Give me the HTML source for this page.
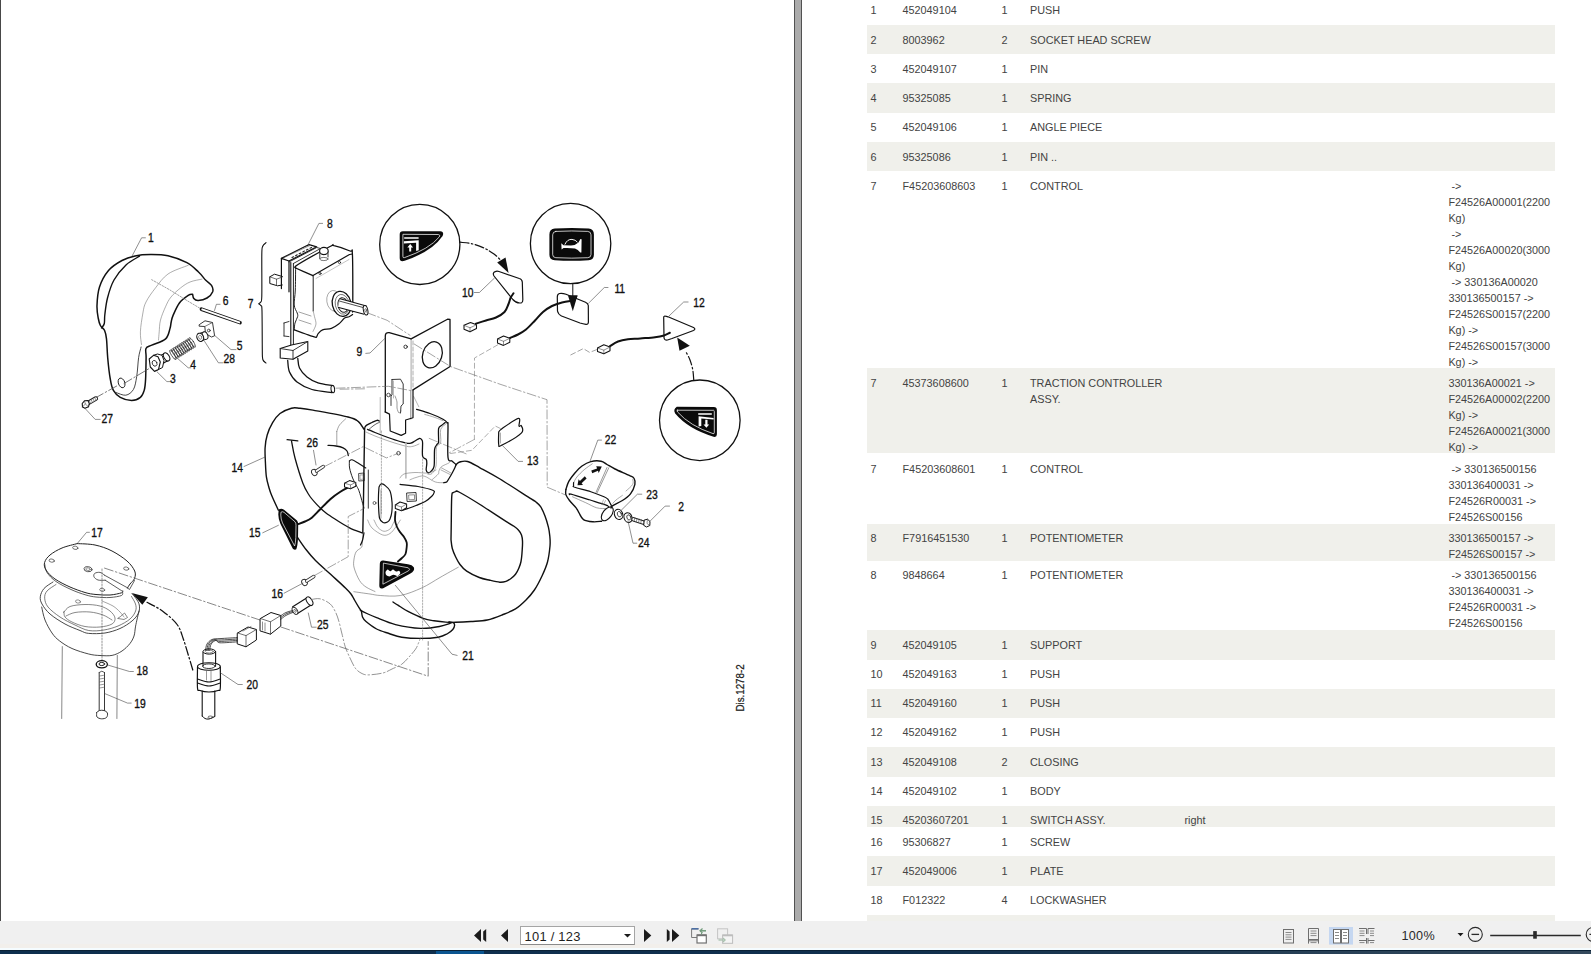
<!DOCTYPE html>
<html><head><meta charset="utf-8"><title>Parts</title>
<style>
*{margin:0;padding:0;box-sizing:border-box}
html,body{width:1591px;height:954px;overflow:hidden;background:#fff;font-family:"Liberation Sans",sans-serif}
#left{position:absolute;left:0;top:0;width:794px;height:921px;background:#fff;overflow:hidden}
#bar{position:absolute;left:794px;top:0;width:8px;height:921px;background:#ababab;border-left:1px solid #525252;border-right:1px solid #525252}
#right{position:absolute;left:802px;top:0;width:789px;height:921px;background:#fff;overflow:hidden}
.r{position:absolute;left:65px;width:688px;font-size:10.83px;line-height:16px;color:#434343}
.r.s{background:#f0f0eb}
.r span{position:absolute;top:6.7px;white-space:nowrap}
.c1{left:3.5px}.c2{left:35.5px}.c3{left:134.4px}.c4{left:163px}.c5{left:317.4px}.c6{left:581.4px}
#tb{position:absolute;left:0;top:921px;width:1591px;height:29px;background:#f0f0f0}
#tb .ln{position:absolute;left:0;top:23px;width:1591px;height:4px;background:#f2efeb}
#tb .ln2{position:absolute;left:0;top:27.3px;width:1591px;height:1.4px;background:#f5fcff}
#task{position:absolute;left:0;top:950px;width:1591px;height:4px;background:linear-gradient(90deg,#0e2f4e 0,#102f4d 900px,#1f3a52 1150px,#34495c 1591px);border-top:0.6px solid #0b2236}
.ic{position:absolute}
</style></head><body>
<div id="left"><svg width="794" height="921" viewBox="0 0 794 921" style="position:absolute;left:0;top:0" font-family="Liberation Sans, sans-serif" stroke-linecap="round" stroke-linejoin="round">
<path d="M192.6 294.2 C191.9 294.4 190.4 293.9 188.2 295.4 C186.0 296.9 181.9 299.6 179.4 303.0 C176.9 306.4 174.4 312.4 173.0 315.6 C171.6 318.8 171.7 319.9 171.2 322.0 C170.7 324.1 170.9 325.7 170.0 328.5 C169.1 331.3 168.6 336.1 165.6 338.9 C162.6 341.7 155.1 343.6 151.8 345.2 C148.5 346.8 146.9 346.4 146.0 348.5 C145.1 350.6 146.2 352.6 146.1 357.7 C146.0 362.8 145.9 373.7 145.6 379.1 C145.3 384.6 145.1 387.3 144.2 390.4 C143.3 393.4 142.5 395.7 140.4 397.4 C138.3 399.1 134.9 400.5 131.6 400.5 C128.2 400.5 123.3 399.1 120.3 397.4 C117.3 395.7 115.1 393.4 113.4 390.4 C111.7 387.3 111.2 384.6 110.3 379.1 C109.3 373.7 108.3 364.4 107.7 357.7 C107.1 351.0 107.0 343.4 106.5 338.9 C106.0 334.4 105.6 332.7 104.6 330.5 C103.6 328.3 101.5 327.6 100.4 325.5 C99.3 323.4 98.8 321.3 98.2 318.0 C97.6 314.7 96.8 310.7 97.0 305.5 C97.2 300.3 97.6 292.8 99.5 287.0 C101.4 281.2 104.8 274.9 108.5 270.5 C112.2 266.1 117.6 262.9 122.0 260.5 C126.4 258.1 130.3 257.0 135.0 256.0 C139.7 255.0 144.9 254.6 150.4 254.6 C155.9 254.6 161.9 254.5 168.0 255.8 C174.1 257.2 181.8 260.0 186.9 262.7 C192.0 265.4 195.3 269.1 198.5 272.0 C201.7 274.9 203.6 278.1 205.8 280.3 C208.0 282.5 210.3 283.5 211.5 285.4 C212.7 287.3 213.4 289.6 212.7 291.7 C211.9 293.8 209.4 296.5 207.0 298.0 C204.6 299.5 200.4 300.4 198.2 300.5 C196.0 300.6 194.7 299.6 193.8 298.5 C192.9 297.4 192.8 294.9 192.6 294.2" fill="none" stroke="#111" stroke-width="1.5" />
<path d="M139.5 256.2 C137.2 257.7 130.2 261.0 126.0 265.0 C121.8 269.0 117.1 274.5 114.0 280.0 C110.9 285.5 109.0 292.2 107.5 298.0 C106.0 303.8 105.3 310.8 104.8 315.0 C104.3 319.2 104.8 321.3 104.3 323.5 C103.8 325.7 102.0 327.2 101.5 328.0" fill="none" stroke="#111" stroke-width="1.4" />
<path d="M141.1 347.0 C140.7 348.8 139.3 352.8 138.6 357.7 C137.9 362.6 137.6 371.3 136.7 376.6 C135.8 381.9 135.2 386.4 133.4 389.5 C131.6 392.6 128.7 394.7 125.8 395.2 C122.9 395.7 117.6 392.9 116.0 392.5" fill="none" stroke="#333" stroke-width="0.9" />
<path d="M188.2 265.3 C184.8 266.8 173.4 270.2 168.0 274.0 C162.6 277.8 159.2 283.2 155.5 287.9 C151.8 292.6 148.1 297.8 146.0 302.0 C143.9 306.2 143.8 308.0 142.9 313.0 C142.0 318.0 140.6 326.6 140.4 331.9 C140.2 337.1 141.3 342.4 141.5 344.5" fill="none" stroke="#777" stroke-width="0.6" />
<path d="M202.0 279.1 C200.0 279.6 193.6 280.5 190.0 282.0 C186.4 283.5 183.8 285.4 180.6 287.9 C177.4 290.4 173.5 293.9 171.0 297.0 C168.5 300.1 167.2 303.0 165.5 306.8 C163.8 310.6 161.6 315.8 160.5 320.0 C159.4 324.2 159.5 328.6 159.2 331.9 C158.9 335.2 158.6 338.6 158.5 340.0" fill="none" stroke="#777" stroke-width="0.6" />
<path d="M151.7 279.7 L170.0 290.0 L186.9 300.5 L199.5 308.0" fill="none" stroke="#777" stroke-width="0.7" stroke-dasharray="1.5 1.5"/>
<ellipse cx="121.6" cy="382.9" rx="3.2" ry="5" transform="rotate(-20 121.6 382.9)" fill="none" stroke="#222" stroke-width="0.9"/>
<path d="M95.2 398.0 L117.8 385.4" fill="none" stroke="#555" stroke-width="0.8" stroke-dasharray="9 2.5 1.5 2.5"/>
<path d="M124.0 383.5 L150.0 368.0" fill="none" stroke="#555" stroke-width="0.8" stroke-dasharray="9 2.5 1.5 2.5"/>
<path d="M132.2 255.8 L141.6 237.8 L145.4 237.8" fill="none" stroke="#444" stroke-width="0.6" />
<text transform="translate(148.0,242.2) scale(0.84,1)" font-size="12.3" fill="#111" stroke="#111" stroke-width="0.35">1</text>
<path d="M201.5 309.2 L240.0 322.6" fill="none" stroke="#111" stroke-width="3.6" />
<path d="M201.5 309.2 L240.0 322.6" fill="none" stroke="#fff" stroke-width="1.8" stroke-linecap="butt"/>
<path d="M214.5 310.5 L216.4 304.3 L220.1 304.3" fill="none" stroke="#444" stroke-width="0.6" />
<text transform="translate(222.7,305.2) scale(0.84,1)" font-size="12.3" fill="#111" stroke="#111" stroke-width="0.35">6</text>
<path d="M199.5 324.5 L205.0 320.8 L212.5 322.5 L214.6 335.8 L211.5 337.0 L205.5 333.5 L204.8 326.5 L199.5 326.2Z" fill="#fff" stroke="#222" stroke-width="0.9" />
<path d="M204.8 326.5 L212.5 322.5" fill="none" stroke="#444" stroke-width="0.7" />
<circle cx="208.8" cy="330.5" r="1.4" fill="none" stroke="#111" stroke-width="0.7"/>
<path d="M214.7 335.5 L231.0 349.6 L236.0 349.6" fill="none" stroke="#444" stroke-width="0.6" />
<text transform="translate(236.7,349.8) scale(0.84,1)" font-size="12.3" fill="#111" stroke="#111" stroke-width="0.35">5</text>
<path d="M200.0 333.2 L204.5 331.8" fill="none" stroke="#222" stroke-width="1.0" />
<path d="M200.5 341.2 L205.5 339.5" fill="none" stroke="#222" stroke-width="1.0" />
<ellipse cx="205" cy="335.7" rx="2.8" ry="3.9" transform="rotate(-20 205 335.7)" fill="#fff" stroke="#222" stroke-width="1.0"/>
<ellipse cx="200.2" cy="337.3" rx="3.3" ry="4.2" transform="rotate(-20 200.2 337.3)" fill="#fff" stroke="#111" stroke-width="1.1"/>
<ellipse cx="200.2" cy="337.3" rx="1.5" ry="2" transform="rotate(-20 200.2 337.3)" fill="none" stroke="#555" stroke-width="0.6"/>
<path d="M204.6 341.4 L218.4 362.8 L222.8 362.8" fill="none" stroke="#444" stroke-width="0.6" />
<text transform="translate(223.4,363.0) scale(0.84,1)" font-size="12.3" fill="#111" stroke="#111" stroke-width="0.35">28</text>
<path d="M171.2 351.3 L190.5 339.0" fill="none" stroke="#444" stroke-width="0.7" />
<path d="M174.8 358.3 L194.0 346.0" fill="none" stroke="#444" stroke-width="0.7" />
<ellipse cx="173.0" cy="354.8" rx="1.5" ry="5.6" transform="rotate(-32 173.0 354.8)" fill="none" stroke="#333" stroke-width="0.75"/>
<ellipse cx="174.9" cy="353.6" rx="1.5" ry="5.6" transform="rotate(-32 174.9 353.6)" fill="none" stroke="#333" stroke-width="0.75"/>
<ellipse cx="176.8" cy="352.3" rx="1.5" ry="5.6" transform="rotate(-32 176.8 352.3)" fill="none" stroke="#333" stroke-width="0.75"/>
<ellipse cx="178.8" cy="351.1" rx="1.5" ry="5.6" transform="rotate(-32 178.8 351.1)" fill="none" stroke="#333" stroke-width="0.75"/>
<ellipse cx="180.7" cy="349.9" rx="1.5" ry="5.6" transform="rotate(-32 180.7 349.9)" fill="none" stroke="#333" stroke-width="0.75"/>
<ellipse cx="182.6" cy="348.6" rx="1.5" ry="5.6" transform="rotate(-32 182.6 348.6)" fill="none" stroke="#333" stroke-width="0.75"/>
<ellipse cx="184.5" cy="347.4" rx="1.5" ry="5.6" transform="rotate(-32 184.5 347.4)" fill="none" stroke="#333" stroke-width="0.75"/>
<ellipse cx="186.4" cy="346.2" rx="1.5" ry="5.6" transform="rotate(-32 186.4 346.2)" fill="none" stroke="#333" stroke-width="0.75"/>
<ellipse cx="188.4" cy="345.0" rx="1.5" ry="5.6" transform="rotate(-32 188.4 345.0)" fill="none" stroke="#333" stroke-width="0.75"/>
<ellipse cx="190.3" cy="343.7" rx="1.5" ry="5.6" transform="rotate(-32 190.3 343.7)" fill="none" stroke="#333" stroke-width="0.75"/>
<ellipse cx="192.2" cy="342.5" rx="1.5" ry="5.6" transform="rotate(-32 192.2 342.5)" fill="none" stroke="#333" stroke-width="0.75"/>
<path d="M178.2 359.0 L188.2 367.8 L190.8 367.8" fill="none" stroke="#444" stroke-width="0.6" />
<text transform="translate(190.2,369.2) scale(0.84,1)" font-size="12.3" fill="#111" stroke="#111" stroke-width="0.35">4</text>
<path d="M160.0 360.5 L166.5 356.8" fill="none" stroke="#111" stroke-width="9.0" stroke-linecap="butt"/>
<path d="M160.0 360.5 L166.5 356.8" fill="none" stroke="#fff" stroke-width="7.0" stroke-linecap="butt"/>
<ellipse cx="166.6" cy="356.9" rx="2.6" ry="4.5" transform="rotate(-30 166.6 356.9)" fill="#fff" stroke="#111" stroke-width="1.0"/>
<path d="M153.5 355.3 L157.5 354.0 L162.0 355.3 L164.0 360.5 L162.5 367.5 L158.5 369.5 L154.5 371.3" fill="#fff" stroke="#111" stroke-width="1.0" />
<path d="M149.2 359.0 L153.5 355.3 L158.0 356.8 L160.3 362.0 L158.5 369.5 L154.5 371.3 L150.3 367.0 L149.2 359.0Z" fill="#fff" stroke="#111" stroke-width="1.1" />
<ellipse cx="154.6" cy="363.3" rx="2.3" ry="3" transform="rotate(-25 154.6 363.3)" fill="none" stroke="#222" stroke-width="0.8"/>
<path d="M156.8 371.6 L166.9 381.6 L170.6 381.6" fill="none" stroke="#444" stroke-width="0.6" />
<text transform="translate(170.0,383.1) scale(0.84,1)" font-size="12.3" fill="#111" stroke="#111" stroke-width="0.35">3</text>
<path d="M88.5 402.8 L95.8 398.6" fill="none" stroke="#222" stroke-width="4.6" />
<path d="M88.5 402.8 L95.8 398.6" fill="none" stroke="#fff" stroke-width="2.6" />
<path d="M89.5 401.2 L90.8 403.6" fill="none" stroke="#444" stroke-width="0.6" />
<path d="M91.3 400.1 L92.6 402.6" fill="none" stroke="#444" stroke-width="0.6" />
<path d="M93.1 399.1 L94.4 401.5" fill="none" stroke="#444" stroke-width="0.6" />
<path d="M94.9 398.1 L96.2 400.5" fill="none" stroke="#444" stroke-width="0.6" />
<path d="M82.2 403.5 L84.5 400.8 L88.0 400.6 L89.3 403.5 L88.5 406.8 L85.0 408.2 L82.5 407.0Z" fill="#fff" stroke="#111" stroke-width="1.1" />
<path d="M84.5 400.8 L85.3 404.0 L88.5 406.8" fill="none" stroke="#444" stroke-width="0.6" />
<path d="M85.3 404.0 L82.5 407.0" fill="none" stroke="#444" stroke-width="0.6" />
<path d="M85.1 408.5 L95.2 419.4 L100.2 419.4" fill="none" stroke="#444" stroke-width="0.6" />
<text transform="translate(101.4,423.2) scale(0.84,1)" font-size="12.3" fill="#111" stroke="#111" stroke-width="0.35">27</text>
<path d="M266.0 242.7 C265.4 243.3 263.3 244.4 262.6 246.5 C261.9 248.6 261.9 246.8 261.8 255.0 C261.7 263.2 262.0 288.2 261.8 296.0 C261.6 303.8 261.3 300.7 260.8 302.0 C260.3 303.3 258.7 303.2 258.7 303.8 C258.7 304.4 260.2 304.3 260.8 305.5 C261.4 306.7 261.8 303.6 262.0 311.0 C262.2 318.4 262.2 341.9 262.3 350.0 C262.4 358.1 262.2 357.3 262.8 359.5 C263.4 361.7 265.5 362.4 266.0 363.0" fill="none" stroke="#111" stroke-width="1.1" />
<text transform="translate(247.8,308.2) scale(0.84,1)" font-size="12.3" fill="#111" stroke="#111" stroke-width="0.35">7</text>
<path d="M281.4 288.6 L281.4 258.4 L289.0 261.0 L289.0 291.8" fill="none" stroke="#111" stroke-width="1.2" />
<path d="M281.4 258.4 L305.0 246.5 L309.1 244.6 L316.7 246.8 L289.0 261.0" fill="none" stroke="#111" stroke-width="1.2" />
<path d="M284.0 257.5 L310.0 245.5" fill="none" stroke="#555" stroke-width="0.6" />
<path d="M292.0 257.5 L293.6 256.7" fill="none" stroke="#222" stroke-width="1.1" />
<path d="M295.6 255.7 L297.2 254.8" fill="none" stroke="#222" stroke-width="1.1" />
<path d="M299.2 253.8 L300.8 253.0" fill="none" stroke="#222" stroke-width="1.1" />
<path d="M302.8 251.9 L304.4 251.1" fill="none" stroke="#222" stroke-width="1.1" />
<path d="M306.4 250.1 L308.0 249.3" fill="none" stroke="#222" stroke-width="1.1" />
<path d="M310.0 248.2 L311.6 247.4" fill="none" stroke="#222" stroke-width="1.1" />
<path d="M290.8 262.5 L290.8 346.7" fill="none" stroke="#111" stroke-width="1.1" />
<path d="M293.4 263.5 L293.4 346.0" fill="none" stroke="#222" stroke-width="1.0" />
<path d="M289.0 262.0 L316.7 247.5 L320.5 248.5 L293.4 263.5" fill="none" stroke="#222" stroke-width="0.9" />
<path d="M295.6 268.0 C298.5 269.3 310.1 274.3 313.0 275.6" fill="none" stroke="#111" stroke-width="1.3" />
<path d="M295.6 268.0 C296.0 267.4 292.3 268.1 298.0 264.5 C303.7 260.9 324.0 249.7 330.0 246.5 C336.0 243.3 330.7 244.8 334.0 245.6 C337.3 246.3 346.9 249.6 350.0 251.0 C353.1 252.4 351.9 245.8 352.4 254.0 C352.9 262.2 352.8 290.3 352.8 300.0 C352.8 309.7 352.6 310.0 352.6 312.0" fill="none" stroke="#111" stroke-width="1.3" />
<path d="M313.0 275.6 L349.5 254.5 L352.4 254.0" fill="none" stroke="#111" stroke-width="1.2" />
<path d="M313.2 276.0 L313.2 311.0" fill="none" stroke="#222" stroke-width="1.0" />
<path d="M295.6 268.0 C295.6 271.7 295.5 283.8 295.3 290.0 C295.1 296.2 293.9 301.2 294.2 305.0 C294.5 308.8 296.6 311.1 297.2 313.0 C297.8 314.9 298.0 315.0 297.6 316.7 C297.2 318.4 295.6 320.8 295.0 323.0 C294.4 325.2 294.4 328.8 294.3 329.9" fill="none" stroke="#222" stroke-width="1.0" />
<path d="M294.3 329.9 C296.1 330.5 301.5 332.6 305.0 333.8 C308.5 335.0 313.2 336.8 315.2 337.2 C317.2 337.6 316.5 336.6 317.0 336.0 C317.5 335.4 317.3 334.6 318.2 333.6 C319.1 332.6 320.4 330.8 322.6 329.9 C324.8 329.0 328.7 329.4 331.4 328.4 C334.1 327.4 336.5 325.7 338.7 324.0 C340.9 322.3 342.9 319.3 344.6 318.1 C346.3 316.9 347.7 317.3 349.0 316.7 C350.3 316.1 352.0 314.9 352.6 314.5" fill="none" stroke="#111" stroke-width="1.2" />
<path d="M313.2 311.0 C313.4 311.9 314.0 314.5 314.5 316.7 C315.0 318.9 316.2 321.6 316.0 324.0 C315.8 326.4 313.5 330.2 313.0 331.4" fill="none" stroke="#777" stroke-width="0.6" />
<path d="M299.0 312.0 L311.0 316.0" fill="none" stroke="#666" stroke-width="0.6" />
<path d="M299.0 320.0 L311.0 324.0" fill="none" stroke="#666" stroke-width="0.6" />
<path d="M319.8 251.5 L319.8 258.5" fill="none" stroke="#222" stroke-width="0.9" />
<path d="M328.0 251.5 L328.0 257.0" fill="none" stroke="#222" stroke-width="0.9" />
<ellipse cx="323.9" cy="259" rx="4.1" ry="1.6" transform="rotate(0 323.9 259)" fill="none" stroke="#444" stroke-width="0.7"/>
<ellipse cx="323.9" cy="251" rx="4.3" ry="3.6" transform="rotate(0 323.9 251)" fill="#fff" stroke="#111" stroke-width="1.1"/>
<circle cx="339.5" cy="262.5" r="1.1" fill="none" stroke="#111" stroke-width="0.7"/>
<circle cx="320" cy="273.5" r="1.1" fill="none" stroke="#111" stroke-width="0.7"/>
<path d="M316.0 278.5 L349.0 259.5" fill="none" stroke="#888" stroke-width="0.5" />
<path d="M282.3 276.5 L274.5 274.2 L269.8 276.8 L269.8 283.5 L277.5 285.8 L282.3 285.0" fill="none" stroke="#111" stroke-width="1.0" />
<path d="M269.8 276.8 L276.5 279.2 L282.3 277.0" fill="none" stroke="#333" stroke-width="0.7" />
<path d="M276.5 279.2 L276.5 285.6" fill="none" stroke="#333" stroke-width="0.7" />
<path d="M284.0 323.0 L289.0 321.5" fill="none" stroke="#222" stroke-width="0.9" />
<path d="M284.0 323.0 L284.0 336.0" fill="none" stroke="#222" stroke-width="0.9" />
<path d="M284.0 336.0 L289.0 336.6" fill="none" stroke="#222" stroke-width="0.9" />
<ellipse cx="334" cy="300.8" rx="7.2" ry="10.4" transform="rotate(-8 334 300.8)" fill="#fff" stroke="#777" stroke-width="0.6"/>
<ellipse cx="341.6" cy="303.8" rx="9.3" ry="12.6" transform="rotate(-12 341.6 303.8)" fill="#fff" stroke="#111" stroke-width="1.3"/>
<ellipse cx="342.3" cy="304.3" rx="7" ry="10" transform="rotate(-12 342.3 304.3)" fill="none" stroke="#444" stroke-width="0.7"/>
<ellipse cx="343" cy="305" rx="5" ry="7.4" transform="rotate(-12 343 305)" fill="none" stroke="#222" stroke-width="1.0"/>
<path d="M339.0 303.0 L365.3 310.2" fill="none" stroke="#111" stroke-width="9.6" stroke-linecap="butt"/>
<path d="M339.0 303.0 L365.3 310.2" fill="none" stroke="#fff" stroke-width="7.6" stroke-linecap="butt"/>
<path d="M340.0 301.2 L364.8 308.0" fill="none" stroke="#222" stroke-width="0.8" />
<ellipse cx="365.6" cy="310.2" rx="2.2" ry="4.8" transform="rotate(-12 365.6 310.2)" fill="#fff" stroke="#111" stroke-width="1.0"/>
<ellipse cx="365.8" cy="310.4" rx="0.9" ry="1.8" transform="rotate(-12 365.8 310.4)" fill="none" stroke="#333" stroke-width="0.6"/>
<path d="M280.2 348.5 L291.5 345.0 L307.8 341.5 L307.8 351.0 L293.0 359.2 L280.2 358.0Z" fill="#fff" stroke="#111" stroke-width="1.1" />
<path d="M280.2 348.5 L293.0 350.5 L307.8 341.5" fill="none" stroke="#222" stroke-width="0.9" />
<path d="M293.0 350.5 L293.0 359.2" fill="none" stroke="#222" stroke-width="0.9" />
<path d="M287.7 360.5 C288.0 362.4 287.9 368.4 289.5 372.0 C291.1 375.6 293.2 379.1 297.0 382.0 C300.8 384.9 306.2 387.8 312.0 389.5 C317.8 391.2 328.5 392.0 331.8 392.5" fill="none" stroke="#111" stroke-width="1.3" />
<path d="M297.8 358.5 C298.1 360.1 298.0 364.9 299.5 368.0 C301.0 371.1 303.9 374.5 307.0 377.0 C310.1 379.5 313.7 381.4 318.0 382.8 C322.3 384.2 330.5 385.2 333.0 385.7" fill="none" stroke="#111" stroke-width="1.3" />
<ellipse cx="332.8" cy="389.1" rx="1.8" ry="3.6" transform="rotate(-5 332.8 389.1)" fill="#fff" stroke="#111" stroke-width="1.0"/>
<path d="M308.2 244.5 L318.9 223.4 L322.6 223.4" fill="none" stroke="#444" stroke-width="0.6" />
<text transform="translate(327.1,227.8) scale(0.84,1)" font-size="12.3" fill="#111" stroke="#111" stroke-width="0.35">8</text>
<path d="M385.3 411.9 V336 Q385.3 332.2 389.2 332.6 L411.1 338.9" fill="none" stroke="#111" stroke-width="1.3" />
<path d="M411.1 338.9 L447.5 319.2 L450.0 319.5 L450.1 366.5 L413.0 389.9" fill="none" stroke="#111" stroke-width="1.3" />
<path d="M411.1 338.9 L411.1 390.5" fill="none" stroke="#666" stroke-width="0.6" />
<path d="M413.0 341.0 L413.0 388.5" fill="none" stroke="#777" stroke-width="0.6" stroke-dasharray="4 2"/>
<path d="M410.8 391.0 L410.8 419.0" fill="none" stroke="#555" stroke-width="0.7" />
<ellipse cx="432.3" cy="354.8" rx="9.6" ry="13.4" transform="rotate(18 432.3 354.8)" fill="none" stroke="#111" stroke-width="1.3"/>
<path d="M392.0 379.5 L392.0 395.0 L391.0 396.0 L391.0 405.5" fill="none" stroke="#222" stroke-width="0.9" />
<path d="M392.0 379.5 L400.5 379.2 L403.2 384.0 L403.2 404.0 L401.0 406.0 L400.5 413.0" fill="none" stroke="#222" stroke-width="0.9" />
<path d="M393.5 381.0 L393.5 398.0" fill="none" stroke="#777" stroke-width="0.5" />
<circle cx="405.6" cy="346.8" r="1.7" fill="none" stroke="#111" stroke-width="0.8"/>
<circle cx="388.5" cy="395" r="1.8" fill="none" stroke="#111" stroke-width="0.7"/>
<path d="M395.0 396.0 C395.3 397.0 396.7 400.0 397.0 402.0 C397.3 404.0 396.7 406.2 397.0 408.0 C397.3 409.8 398.3 412.5 399.0 413.0 C399.7 413.5 400.7 411.3 401.0 411.0" fill="none" stroke="#555" stroke-width="0.6" />
<path d="M365.8 353.4 L370.0 353.0 L384.5 338.8" fill="none" stroke="#444" stroke-width="0.6" />
<text transform="translate(356.4,356.3) scale(0.84,1)" font-size="12.3" fill="#111" stroke="#111" stroke-width="0.35">9</text>
<circle cx="419.8" cy="244.4" r="40.1" fill="none" stroke="#111" stroke-width="1.3"/>
<circle cx="570.6" cy="243.5" r="40.2" fill="none" stroke="#111" stroke-width="1.3"/>
<circle cx="699.8" cy="420.3" r="40.3" fill="none" stroke="#111" stroke-width="1.3"/>
<path d="M402.8 231.3 L440.3 231.3 Q444.4 231.5 442.6 236 Q432 251.5 404.6 260.8 Q399.7 262.3 399.7 258 L399.7 234.5 Q399.7 231.3 402.8 231.3 Z" fill="#0a0a0a" stroke="none" stroke-width="0" />
<path d="M403.3 234.3 L438.3 234.5 Q440.7 234.8 439.3 236.9 Q429.5 249 404.5 257.6 Q402.9 258.2 402.9 256.4 L402.9 234.8 Z" fill="none" stroke="#fff" stroke-width="0.75" />
<path d="M404.2 237.2 H418.6 V238.7 H404.2 Z M403.9 241.3 L418.7 240.3 L418.7 250.2 L416.1 251 L416.1 242.8 L403.9 243.4 Z M410.2 244.1 L413.1 247.4 L411.2 247.4 L411.2 251.4 L409.2 251.4 L409.2 247.4 L407.3 247.4 Z" fill="#fff" stroke="none" stroke-width="0" />
<path d="M676.8 406.8 L713.8 407 Q716.9 407 716.9 410.2 L716.9 434.3 Q716.9 437.5 713.6 436.8 Q688 429 675.2 413.6 Q672.8 409.5 676.8 406.8 Z" fill="#0a0a0a" stroke="none" stroke-width="0" />
<path d="M677.3 410.2 L713.6 410.3 Q714.3 410.5 714.3 411.5 L714.3 432.8 Q714.3 434 713 433.6 Q690 426 677.6 412 Q676.3 410.4 677.3 410.2 Z" fill="none" stroke="#fff" stroke-width="0.75" />
<path d="M698.2 413.2 H711.8 V414.8 H698.2 Z M698.6 416.3 L713.6 417.9 L713.6 419.4 L701.3 418.6 L701.3 426 L698.6 426.6 Z M705.3 419.8 H707.5 V424.5 H709.2 L706.4 427.8 L703.5 424.5 H705.3 Z" fill="#fff" stroke="none" stroke-width="0" />
<path d="M554.8 228.6 Q571.7 227.6 588.6 228.6 Q593.9 229 593.9 234.5 L593.9 254.8 Q593.9 260 588.6 260.3 Q571.7 261.4 554.8 260.3 Q549.4 260 549.4 254.8 L549.4 234.5 Q549.4 229 554.8 228.6 Z" fill="#0a0a0a" stroke="none" stroke-width="0" />
<path d="M555.8 231.4 Q571.7 230.5 587.8 231.4 Q591 231.7 591 234.8 L591 254.6 Q591 257.5 587.8 257.7 Q571.7 258.6 555.8 257.7 Q552.7 257.5 552.7 254.6 L552.7 234.8 Q552.7 231.7 555.8 231.4 Z" fill="none" stroke="#fff" stroke-width="0.75" />
<path d="M561.3 243.2 L563.5 245.3 L571 245.6 Q576 245 578.5 242.5 L580.4 239 L581.6 239.2 L581.4 252.6 L580.3 252.4 Q578 249.5 575 248.6 Q570 247.6 563.5 248 L561.6 249.6 Z" fill="#fff" stroke="none" stroke-width="0" />
<path d="M565 244.2 Q567.3 239 572 239.4 Q575.5 239.7 577.2 241.9" fill="none" stroke="#fff" stroke-width="0.95" />
<path d="M459.9 242.2 C461.9 242.5 468.0 242.8 472.0 243.8 C476.0 244.8 480.3 246.3 484.0 248.0 C487.7 249.7 491.2 252.0 494.0 254.0 C496.8 256.0 499.4 259.0 500.5 260.0" fill="none" stroke="#111" stroke-width="1.2" stroke-dasharray="9 2.5 1.5 2.5"/>
<path d="M508.6 273 L497.2 262.5 L505.5 257.5 Z" fill="#111" stroke="none" stroke-width="0" />
<path d="M572.8 283.7 L572.8 299.0" fill="none" stroke="#111" stroke-width="1.0" />
<path d="M572.8 311.2 L568 295.5 L577.5 295.5 Z" fill="#111" stroke="none" stroke-width="0" />
<path d="M693.8 380.3 C693.6 378.6 693.4 373.4 692.8 370.0 C692.2 366.6 691.1 363.0 690.0 360.0 C688.9 357.0 686.7 353.3 686.0 352.0" fill="none" stroke="#111" stroke-width="1.2" stroke-dasharray="9 2.5 1.5 2.5"/>
<path d="M677.2 337.6 L679.5 350.8 L689.8 345.7 Z" fill="#111" stroke="none" stroke-width="0" />
<path d="M496 271.3 Q492 272.2 494 276 L512.8 299.5 Q516.5 303.8 521.5 302.8 Q523 302.3 522.8 299 L522.3 282 Q522 279.3 519.3 278.5 L499 271.5 Q497.5 271 496 271.3 Z" fill="#fff" stroke="#111" stroke-width="1.2" />
<path d="M513.5 293.3 C513.0 294.1 511.3 296.2 510.5 298.0 C509.7 299.8 509.5 301.7 508.5 304.0 C507.5 306.3 506.6 309.8 504.5 312.0 C502.4 314.2 499.1 316.1 496.0 317.5 C492.9 318.9 489.3 319.5 486.0 320.5 C482.7 321.5 477.7 323.1 476.0 323.6" fill="none" stroke="#111" stroke-width="2.0" />
<path d="M464.0 325.3 L470.5 322.5 L476.5 324.8 L476.5 328.5 L470.0 331.8 L464.0 329.2Z" fill="#fff" stroke="#111" stroke-width="1.05" />
<path d="M464.0 325.3 L470.0 327.8 L476.5 324.8" fill="none" stroke="#444" stroke-width="0.6" />
<path d="M470.0 327.8 L470.0 331.8" fill="none" stroke="#444" stroke-width="0.6" />
<path d="M474.4 292.5 L479.4 292.5 L494.5 278.0" fill="none" stroke="#444" stroke-width="0.6" />
<text transform="translate(461.9,296.5) scale(0.84,1)" font-size="12.3" fill="#111" stroke="#111" stroke-width="0.35">10</text>
<path d="M559.5 293.5 Q557.3 294 557.3 297 L557.5 311 Q558 314 561.5 316 L580 323 Q583 324 586 324.3 Q588.4 324.5 588.4 322 L588.3 305.5 Q588 303.5 585.5 302.3 L566 294.3 Q562.5 293 559.5 293.5 Z" fill="#fff" stroke="#111" stroke-width="1.2" />
<path d="M570.8 301.0 C569.3 301.2 565.1 301.7 562.0 302.5 C558.9 303.3 555.2 304.4 552.0 306.0 C548.8 307.6 545.8 309.6 543.0 312.0 C540.2 314.4 537.8 317.6 535.0 320.5 C532.2 323.4 528.8 327.2 526.0 329.5 C523.2 331.8 520.7 333.1 518.0 334.5 C515.3 335.9 511.3 337.4 510.0 338.0" fill="none" stroke="#111" stroke-width="2.0" />
<path d="M572.8 311.2 L568 295.5 L577.5 295.5 Z" fill="#111" stroke="none" stroke-width="0" />
<path d="M497.5 339.0 L503.5 336.0 L509.8 338.3 L509.8 342.2 L503.5 345.4 L497.5 343.0Z" fill="#fff" stroke="#111" stroke-width="1.05" />
<path d="M497.5 339.0 L503.5 341.3 L509.8 338.3" fill="none" stroke="#444" stroke-width="0.6" />
<path d="M503.5 341.3 L503.5 345.4" fill="none" stroke="#444" stroke-width="0.6" />
<path d="M608.0 287.5 L604.3 287.5 L588.6 303.2" fill="none" stroke="#444" stroke-width="0.6" />
<text transform="translate(614.4,292.7) scale(0.84,1)" font-size="12.3" fill="#111" stroke="#111" stroke-width="0.35">11</text>
<path d="M665.5 316.2 Q663.5 315.5 663.7 318 L664 337.5 Q664.2 340.5 667.5 340 L672 338.5 L693.5 330.5 Q696.2 329 693.5 327.5 L668 316.8 Z" fill="#fff" stroke="#111" stroke-width="1.2" />
<path d="M669.9 332.8 C668.9 333.2 666.5 334.8 664.0 335.5 C661.5 336.2 659.0 336.7 655.0 337.2 C651.0 337.7 644.8 338.1 640.3 338.5 C635.8 338.9 631.7 338.8 628.0 339.3 C624.3 339.8 621.0 340.4 618.0 341.5 C615.0 342.6 611.3 345.4 610.0 346.2" fill="none" stroke="#111" stroke-width="2.0" />
<path d="M597.5 348.0 L603.8 344.8 L610.0 347.0 L610.0 350.8 L603.8 353.8 L597.5 351.5Z" fill="#fff" stroke="#111" stroke-width="1.05" />
<path d="M597.5 348.0 L603.8 350.2 L610.0 347.0" fill="none" stroke="#444" stroke-width="0.6" />
<path d="M603.8 350.2 L603.8 353.8" fill="none" stroke="#444" stroke-width="0.6" />
<path d="M688.1 302.0 L683.7 302.0 L669.2 315.8" fill="none" stroke="#444" stroke-width="0.6" />
<text transform="translate(693.2,307.2) scale(0.84,1)" font-size="12.3" fill="#111" stroke="#111" stroke-width="0.35">12</text>
<path d="M570.8 354.9 L583.3 348.6 L589.6 352.4 L597.0 349.5" fill="none" stroke="#666" stroke-width="0.6" stroke-dasharray="5 3"/>
<path d="M497.8 344.8 L474.5 358.0 L474.4 439.4" fill="none" stroke="#777" stroke-width="0.6" stroke-dasharray="5 3"/>
<path d="M474.4 439.4 L449.0 453.0" fill="none" stroke="#777" stroke-width="0.6" stroke-dasharray="9 2.5 1.5 2.5"/>
<path d="M429.2 438.4 L467.7 454.5" fill="none" stroke="#777" stroke-width="0.6" stroke-dasharray="9 2.5 1.5 2.5"/>
<path d="M498.7 432.0 C499.2 431.5 498.3 431.2 501.6 428.9 C504.9 426.6 515.5 418.9 518.4 418.4 C521.3 417.9 518.5 424.8 519.0 426.0 C519.5 427.2 520.9 424.6 521.3 425.8 C521.7 427.0 524.6 429.9 521.3 433.1 C518.0 436.4 505.4 443.4 501.6 445.3 C497.8 447.2 499.2 446.6 498.7 444.4 C498.2 442.2 498.7 434.1 498.7 432.0" fill="#fff" stroke="#111" stroke-width="1.2" />
<path d="M500.3 433.0 L500.3 443.0" fill="none" stroke="#555" stroke-width="0.6" />
<path d="M501.9 445.0 L518.2 461.4 L522.6 461.4" fill="none" stroke="#444" stroke-width="0.6" />
<text transform="translate(527.1,464.7) scale(0.84,1)" font-size="12.3" fill="#111" stroke="#111" stroke-width="0.35">13</text>
<path d="M500.4 428.5 L495.3 426.0 L471.9 450.3 L449.2 453.7" fill="none" stroke="#777" stroke-width="0.6" stroke-dasharray="5 3"/>
<path d="M363.8 429.0 C362.9 427.7 360.8 423.4 358.2 421.4 C355.6 419.4 355.7 418.9 348.1 417.0 C340.6 415.1 320.9 411.6 312.9 410.1 C304.9 408.7 303.6 408.6 300.0 408.3 C296.4 408.0 294.8 407.3 291.5 408.2 C288.2 409.1 283.1 411.1 280.0 413.5 C276.9 415.9 274.7 419.1 272.6 422.7 C270.5 426.3 268.4 430.8 267.2 435.0 C265.9 439.2 265.4 443.3 265.1 447.8 C264.8 452.3 265.2 457.2 265.4 462.0 C265.6 466.8 265.8 472.6 266.4 476.8 C267.0 481.0 267.9 483.9 268.8 487.0 C269.7 490.1 269.9 491.2 271.5 495.1 C273.1 499.0 277.2 507.7 278.4 510.2" fill="none" stroke="#111" stroke-width="1.4" />
<path d="M296.5 536.0 C298.1 538.2 302.8 545.4 306.0 549.5 C309.2 553.6 311.4 556.4 315.5 560.5 C319.6 564.6 325.6 569.7 330.6 574.3 C335.6 578.9 342.3 584.9 345.7 588.2 C349.1 591.5 349.5 592.0 351.0 594.0 C352.5 596.0 353.2 597.7 354.5 600.0 C355.8 602.3 357.8 605.7 359.0 607.6 C360.2 609.5 361.1 610.8 361.5 611.4" fill="none" stroke="#111" stroke-width="1.4" />
<path d="M361.5 611.4 C361.7 612.3 361.8 615.3 362.5 617.0 C363.2 618.7 363.6 619.5 366.0 621.5 C368.4 623.5 372.8 627.0 376.6 629.0 C380.4 631.0 384.8 632.1 389.0 633.5 C393.2 634.9 396.5 636.4 401.8 637.2 C407.1 638.0 414.5 638.4 420.6 638.4 C426.7 638.4 433.8 637.9 438.2 637.2 C442.6 636.5 444.6 635.3 447.0 634.0 C449.4 632.7 451.5 631.0 452.8 629.5 C454.1 628.0 454.5 626.3 454.6 625.2 C454.7 624.1 454.2 623.3 453.3 622.7 C452.4 622.1 449.7 621.9 449.0 621.8" fill="none" stroke="#111" stroke-width="1.4" />
<path d="M360.3 610.1 C361.6 610.8 365.3 612.7 368.0 614.0 C370.7 615.3 372.0 615.9 376.6 617.7 C381.2 619.5 388.2 622.8 395.5 624.6 C402.8 626.4 413.3 628.1 420.6 628.4 C427.9 628.7 434.3 627.5 439.5 626.5 C444.7 625.5 449.9 623.3 452.0 622.7" fill="none" stroke="#111" stroke-width="1.3" />
<path d="M393.0 602.0 C394.2 602.8 397.5 604.9 400.0 606.5 C402.5 608.1 404.1 609.4 408.0 611.4 C411.9 613.4 418.8 616.7 423.1 618.3 C427.4 619.9 430.2 620.2 434.0 620.8 C437.8 621.4 442.2 621.9 445.8 622.1 C449.4 622.4 451.5 622.4 455.7 622.3 C459.9 622.2 465.8 621.9 471.0 621.5 C476.2 621.1 482.0 621.1 487.2 620.0 C492.4 618.9 497.3 616.9 502.0 615.0 C506.7 613.1 511.5 611.4 515.5 608.9 C519.5 606.4 522.9 603.1 526.0 600.0 C529.1 596.9 531.7 594.0 534.4 590.0 C537.1 586.0 539.8 580.7 542.0 576.0 C544.2 571.3 546.2 567.0 547.5 562.0 C548.8 557.0 549.6 550.3 550.0 546.0 C550.4 541.7 550.1 539.1 549.8 536.0 C549.5 532.9 549.2 530.5 548.4 527.2 C547.6 523.9 546.3 519.4 545.0 516.0 C543.7 512.6 542.1 509.0 540.6 506.7 C539.1 504.4 537.6 503.3 536.0 502.0 C534.4 500.7 537.2 502.7 531.2 498.9 C525.2 495.1 508.5 484.2 500.0 479.0 C491.5 473.8 485.4 470.7 480.0 467.8 C474.6 464.9 471.0 462.5 467.6 461.5 C464.2 460.5 461.7 461.5 459.8 462.0 C457.9 462.5 456.7 464.2 456.1 464.6" fill="none" stroke="#111" stroke-width="1.4" />
<path d="M451.0 539.7 C451.1 536.4 451.2 527.3 451.3 520.0 C451.4 512.7 451.4 500.3 451.8 495.7 C452.2 491.1 452.9 493.2 453.5 492.5 C454.1 491.8 454.8 491.7 455.7 491.6 C456.6 491.5 454.9 489.9 459.0 492.0 C463.1 494.1 471.9 499.4 480.0 504.5 C488.1 509.6 501.9 518.8 507.6 522.4 C513.3 526.0 512.2 525.0 514.0 526.3 C515.8 527.6 517.4 528.8 518.6 530.3 C519.9 531.8 520.9 533.2 521.5 535.0 C522.1 536.8 522.4 538.5 522.5 541.0 C522.6 543.5 522.5 546.6 522.2 550.0 C522.0 553.4 521.6 558.4 521.0 561.5 C520.4 564.6 519.6 566.4 518.7 568.5 C517.8 570.6 516.8 572.6 515.5 574.3 C514.2 576.0 512.6 577.3 511.0 578.5 C509.4 579.7 507.9 580.8 506.0 581.4 C504.1 582.0 502.5 582.4 499.8 582.2 C497.1 582.0 493.4 581.1 490.0 580.3 C486.6 579.5 483.2 579.0 479.3 577.5 C475.4 576.0 469.9 573.4 466.7 571.2 C463.5 569.0 461.8 566.9 460.0 564.5 C458.2 562.1 457.0 559.7 455.7 557.0 C454.4 554.3 453.1 551.4 452.3 548.5 C451.5 545.6 451.2 541.2 451.0 539.7" fill="none" stroke="#111" stroke-width="1.4" />
<path d="M364.6 428.7 L363.4 505.0 L362.8 533.0" fill="none" stroke="#111" stroke-width="1.4" />
<path d="M364.6 428.7 C364.7 428.5 364.5 427.9 364.9 427.3 C365.2 426.7 365.5 425.9 366.7 425.1 C367.9 424.3 370.3 423.3 372.0 422.5 C373.7 421.7 375.8 420.6 377.0 420.3 C378.2 420.1 378.8 420.9 379.2 421.0" fill="none" stroke="#111" stroke-width="1.3" />
<path d="M368.9 429.5 C369.6 428.9 371.6 427.0 373.0 426.0 C374.4 425.0 375.9 424.0 377.0 423.4 C378.1 422.8 379.0 422.6 379.4 422.5" fill="none" stroke="#333" stroke-width="0.8" />
<path d="M367.5 429.3 C368.8 429.8 371.6 431.1 375.0 432.5 C378.4 433.9 383.8 436.0 388.0 437.5 C392.2 439.0 396.9 440.6 400.0 441.5 C403.1 442.4 404.6 442.9 406.4 443.2 C408.2 443.5 409.4 443.6 410.8 443.2 C412.2 442.8 413.5 441.8 415.0 441.0 C416.5 440.2 418.5 438.5 419.6 438.3 C420.7 438.1 421.3 439.0 421.8 439.8 C422.3 440.6 422.5 440.3 422.6 443.0 C422.7 445.7 422.0 453.5 422.6 456.2 C423.2 458.9 425.5 458.2 426.2 459.4 C426.9 460.6 426.8 461.9 426.8 463.6 C426.8 465.4 426.0 468.4 426.2 469.9 C426.4 471.4 427.0 472.4 427.8 472.7 C428.6 472.9 429.9 472.5 431.0 471.4 C432.1 470.3 433.5 469.9 434.1 466.2 C434.7 462.5 434.1 453.1 434.6 449.4 C435.1 445.7 436.5 445.4 437.2 444.2 C437.9 443.0 438.4 444.6 438.6 442.0 C438.8 439.4 438.1 431.4 438.6 428.7 C439.1 425.9 440.4 426.5 441.5 425.5 C442.6 424.5 444.6 423.0 445.2 422.5" fill="none" stroke="#111" stroke-width="1.3" />
<path d="M366.0 432.0 C367.5 432.7 371.0 434.4 375.0 436.0 C379.0 437.6 384.8 439.8 390.0 441.5 C395.2 443.2 402.6 445.5 406.4 446.3 C410.2 447.1 410.9 446.7 413.0 446.3 C415.1 445.9 418.0 444.4 419.0 444.0" fill="none" stroke="#777" stroke-width="0.6" />
<path d="M446.5 423.5 C445.5 424.5 441.7 426.3 440.7 429.5 C439.7 432.7 441.4 439.5 440.7 442.5 C440.0 445.5 437.3 443.6 436.5 447.5 C435.7 451.4 436.8 461.7 436.0 466.0 C435.2 470.3 433.3 472.1 432.0 473.5 C430.7 474.9 428.7 474.2 428.0 474.3" fill="none" stroke="#777" stroke-width="0.6" />
<path d="M416.6 409.3 C418.8 410.0 425.6 411.9 430.0 413.5 C434.4 415.1 440.1 417.6 443.0 419.2 C445.9 420.8 446.6 421.8 447.4 422.9 C448.2 424.0 447.9 420.3 448.0 426.0 C448.1 431.7 447.3 451.5 448.0 457.3 C448.7 463.1 450.6 459.8 452.0 461.0 C453.4 462.2 455.4 464.0 456.1 464.6" fill="none" stroke="#111" stroke-width="1.3" />
<path d="M424.7 414.4 C426.4 414.9 431.9 416.4 435.0 417.5 C438.1 418.6 441.7 420.2 443.0 420.7" fill="none" stroke="#777" stroke-width="0.6" />
<path d="M413.7 396.5 L418.8 406.7" fill="none" stroke="#888" stroke-width="0.6" />
<path d="M385.1 411.9 L389.5 414.1 L390.2 431.0 L401.2 435.4 L405.6 433.2 L405.6 420.0 L413.0 417.7 L413.0 390.0" fill="none" stroke="#111" stroke-width="1.2" />
<path d="M456.1 464.6 C455.8 465.2 455.2 467.0 454.5 468.5 C453.8 470.0 452.8 471.8 451.9 473.5 C451.0 475.2 449.9 477.1 449.0 478.5 C448.1 479.9 447.6 481.2 446.7 481.9 C445.8 482.6 444.0 482.6 443.5 482.7" fill="none" stroke="#111" stroke-width="1.3" />
<path d="M443.5 482.7 C442.1 482.6 438.3 483.0 435.1 481.9 C431.9 480.8 427.3 476.8 424.1 476.1 C420.9 475.4 418.4 476.9 416.0 477.5 C413.6 478.1 411.0 479.4 410.0 479.8" fill="none" stroke="#777" stroke-width="0.6" />
<path d="M449.8 461.0 C449.6 461.3 450.2 462.1 448.8 463.0 C447.4 463.9 443.1 465.3 441.4 466.7 C439.7 468.1 439.3 470.2 438.8 471.4 C438.3 472.6 439.4 472.6 438.3 474.0 C437.2 475.4 433.1 478.8 432.0 479.8" fill="none" stroke="#777" stroke-width="0.6" />
<path d="M441.4 467.8 L450.9 473.0" fill="none" stroke="#777" stroke-width="0.6" />
<path d="M440.9 469.9 L450.3 474.6" fill="none" stroke="#777" stroke-width="0.6" />
<path d="M405.9 443.0 L405.9 478.0" fill="none" stroke="#bbb" stroke-width="1.6" />
<path d="M381.4 431.0 L381.4 515.0" fill="none" stroke="#777" stroke-width="0.6" stroke-dasharray="1.5 1.5"/>
<path d="M422.6 459.0 L422.6 640.0" fill="none" stroke="#777" stroke-width="0.6" stroke-dasharray="1.5 1.5"/>
<path d="M362.8 533.0 C362.7 535.1 362.4 542.9 362.1 545.4 C361.8 547.9 361.8 546.8 360.8 547.9 C359.8 549.0 357.1 550.0 356.0 552.0 C354.9 554.0 354.2 557.3 353.9 560.0 C353.6 562.7 353.2 564.6 354.2 568.0 C355.1 571.4 357.6 577.4 359.6 580.6 C361.6 583.8 363.4 585.2 366.0 587.0 C368.6 588.8 373.5 590.8 375.0 591.5" fill="none" stroke="#666" stroke-width="0.6" />
<path d="M353.9 591.7 C356.6 592.1 365.6 593.4 370.0 594.0 C374.4 594.6 375.2 595.2 380.3 595.5 C385.4 595.8 393.5 596.8 400.4 595.5 C407.3 594.2 415.2 590.9 421.8 587.9 C428.4 584.9 433.9 581.0 440.0 577.5 C446.1 574.0 455.2 568.9 458.3 567.2" fill="none" stroke="#666" stroke-width="0.6" />
<path d="M364.0 532.8 C363.8 534.0 363.2 538.0 362.6 540.0 C362.0 542.0 360.9 544.2 360.5 545.0" fill="none" stroke="#111" stroke-width="1.2" />
<path d="M379.0 487.0 C379.3 486.5 380.1 484.3 381.0 484.0 C381.9 483.7 383.0 483.8 384.5 485.0 C386.0 486.2 388.8 488.2 390.0 491.0 C391.2 493.8 391.7 498.5 392.0 502.0 C392.3 505.5 392.1 509.2 391.8 512.0 C391.5 514.8 390.7 517.3 390.0 519.0 C389.3 520.7 388.7 521.4 387.5 522.0 C386.3 522.6 384.3 523.2 383.0 522.5 C381.7 521.8 380.2 520.9 379.5 518.0 C378.8 515.1 378.7 508.8 378.5 505.0 C378.3 501.2 378.4 498.0 378.5 495.0 C378.6 492.0 378.9 488.3 379.0 487.0" fill="none" stroke="#111" stroke-width="1.2" />
<path d="M367.7 520.0 C368.4 521.3 369.5 525.5 372.0 528.0 C374.5 530.5 379.8 534.1 382.8 535.0 C385.8 535.9 387.9 534.8 390.0 533.5 C392.1 532.2 393.7 529.8 395.4 527.5 C397.1 525.2 399.6 521.2 400.4 520.0" fill="none" stroke="#777" stroke-width="0.6" />
<path d="M374.0 520.0 C374.7 521.2 376.3 525.6 378.0 527.5 C379.7 529.4 382.0 531.0 384.0 531.3 C386.0 531.5 388.5 530.2 390.0 529.0 C391.5 527.8 392.2 525.3 393.0 523.8 C393.8 522.3 394.7 520.6 395.0 520.0" fill="none" stroke="#777" stroke-width="0.6" />
<path d="M381.0 490.0 L381.0 518.0" fill="none" stroke="#666" stroke-width="0.6" />
<path d="M400.0 484.3 C403.0 484.7 412.6 485.5 418.0 486.5 C423.4 487.5 430.0 489.2 432.7 490.3 C435.4 491.4 434.1 491.9 434.0 492.8 C433.9 493.8 433.5 494.5 432.0 496.0 C430.5 497.5 427.9 500.0 425.2 501.6 C422.5 503.2 418.9 504.3 416.0 505.5 C413.1 506.7 409.8 507.8 407.5 508.6 C405.2 509.4 402.9 510.2 402.0 510.5" fill="none" stroke="#111" stroke-width="1.2" />
<path d="M407.0 493.0 L416.0 492.5 L416.4 501.0 L407.5 501.5Z" fill="none" stroke="#222" stroke-width="0.9" />
<path d="M409.0 495.0 L414.5 494.8 L414.5 499.5 L409.3 499.8Z" fill="none" stroke="#444" stroke-width="0.6" />
<path d="M400.0 478.0 C400.7 477.3 401.5 474.9 404.0 474.0 C406.5 473.1 411.0 472.7 415.0 472.5 C419.0 472.3 424.5 473.4 428.0 473.0 C431.5 472.6 434.7 470.5 436.0 470.0" fill="none" stroke="#777" stroke-width="0.6" />
<path d="M349.4 461.0 C349.8 460.8 350.6 459.5 352.0 459.8 C353.4 460.1 355.7 461.6 358.0 463.0 C360.3 464.4 364.5 467.2 365.8 468.0" fill="none" stroke="#111" stroke-width="1.1" />
<path d="M349.4 461.0 C349.4 462.2 349.1 465.2 349.6 468.0 C350.1 470.8 351.5 475.2 352.6 478.0 C353.7 480.8 354.9 482.9 356.0 485.0 C357.1 487.1 357.8 487.6 358.9 490.6 C360.0 493.6 361.8 500.3 362.6 503.2 C363.5 506.1 363.8 507.2 364.0 508.0" fill="none" stroke="#222" stroke-width="1.0" />
<path d="M368.3 470.0 L368.3 508.2" fill="none" stroke="#222" stroke-width="0.9" />
<path d="M359.0 473.5 L364.0 473.0 L364.4 480.6 L359.2 481.0Z" fill="none" stroke="#222" stroke-width="0.8" />
<path d="M360.3 475.0 L363.0 474.8 L363.2 479.2 L360.5 479.4Z" fill="none" stroke="#555" stroke-width="0.5" />
<path d="M380.2 397.5 L380.2 433.0" fill="none" stroke="#888" stroke-width="0.6" />
<path d="M287.1 439.7 L297.8 440.9" fill="none" stroke="#111" stroke-width="1.3" />
<path d="M291.5 440.9 C292.1 443.8 293.1 451.0 295.0 458.0 C296.9 465.0 300.5 476.8 302.8 483.0 C305.1 489.2 306.7 491.4 309.0 495.0 C311.3 498.6 313.9 501.4 316.7 504.4 C319.5 507.4 322.6 510.4 326.0 513.0 C329.4 515.6 333.0 517.8 336.9 520.3 C340.8 522.8 345.3 525.7 349.5 527.8 C353.7 529.9 360.0 532.0 362.1 532.8" fill="none" stroke="#111" stroke-width="1.3" />
<path d="M328.0 445.3 C329.3 445.4 333.5 445.6 336.0 446.0 C338.5 446.4 341.3 447.0 343.1 447.8 C344.9 448.6 346.1 449.7 347.0 451.0 C347.9 452.3 348.1 454.8 348.3 455.5" fill="none" stroke="#111" stroke-width="1.3" />
<path d="M336.8 431.5 C337.2 430.4 338.0 427.1 339.5 425.0 C341.0 422.9 344.6 419.9 345.6 418.9" fill="none" stroke="#666" stroke-width="0.6" />
<path d="M336.8 431.5 L336.8 445.0" fill="none" stroke="#666" stroke-width="0.6" />
<path d="M279 509.3 Q281.5 507.8 284 509.8 L297 520.5 Q298.3 522 298.2 525 L298 538 Q297.6 546 296.3 549.3 Q294.7 550.5 292.7 548.5 L280.5 524 Q278.3 519 278.3 514.5 Q278.3 511 279 509.3 Z" fill="#0a0a0a" stroke="none" stroke-width="0" />
<path d="M281.3 512 Q282.5 511.2 284 512.3 L295 521.8 Q296 523 296 525.2 L295.8 537.5 Q295.6 543.5 294.6 546 L282.5 523 Q280.8 519 280.8 515.5 Z" fill="none" stroke="#fff" stroke-width="0.7" />
<path d="M298.6 524.0 C299.7 523.6 302.8 522.5 305.0 521.5 C307.2 520.5 309.3 519.7 311.8 517.7 C314.3 515.7 316.9 512.6 320.0 509.5 C323.1 506.4 327.3 501.8 330.6 498.9 C333.9 496.0 337.1 493.9 340.0 492.0 C342.9 490.1 346.8 488.2 348.2 487.5" fill="none" stroke="#111" stroke-width="2.0" />
<path d="M344.5 483.2 L349.5 480.6 L355.8 482.4 L355.8 486.3 L350.5 488.8 L344.5 487.0Z" fill="#fff" stroke="#111" stroke-width="1.05" />
<path d="M344.5 483.2 L350.5 485.0 L355.8 482.4" fill="none" stroke="#444" stroke-width="0.6" />
<path d="M350.5 485.0 L350.5 488.8" fill="none" stroke="#444" stroke-width="0.6" />
<path d="M262.7 532.8 L278.4 525.3" fill="none" stroke="#444" stroke-width="0.6" />
<text transform="translate(248.9,537.4) scale(0.84,1)" font-size="12.3" fill="#111" stroke="#111" stroke-width="0.35">15</text>
<path d="M244.0 466.5 L265.1 457.0" fill="none" stroke="#444" stroke-width="0.6" />
<text transform="translate(231.6,471.7) scale(0.84,1)" font-size="12.3" fill="#111" stroke="#111" stroke-width="0.35">14</text>
<path d="M383.2 560.5 Q379.8 560.3 379.8 564 L379.3 585.5 Q379.3 589.6 383.2 588.2 L410 573.8 Q415.5 570.5 413.8 567.2 Q412.3 565 408 564.3 Z" fill="#0a0a0a" stroke="none" stroke-width="0" />
<path d="M383.4 563.5 L382.9 584.2 L408.5 570.8 Q410.8 569.3 408.6 568 Z" fill="none" stroke="#fff" stroke-width="0.7" />
<path d="M385.5 572.0 C385.8 571.6 386.7 569.6 387.5 569.5 C388.3 569.4 389.6 571.3 390.5 571.3 C391.4 571.3 392.1 569.5 393.0 569.6 C393.9 569.7 395.0 571.4 396.0 571.6 C397.0 571.8 398.3 570.5 399.0 570.8 C399.7 571.1 400.4 572.3 400.2 573.2 C399.9 574.1 398.6 575.7 397.5 576.0 C396.4 576.3 394.8 574.7 393.5 574.8 C392.2 574.9 390.7 576.4 389.5 576.4 C388.3 576.4 386.9 575.7 386.2 575.0 C385.5 574.3 385.6 572.5 385.5 572.0 C385.4 571.5 385.2 572.4 385.5 572.0Z" fill="#fff" stroke="none" stroke-width="0" />
<path d="M397.9 561.5 C398.6 560.9 400.7 559.2 402.0 558.0 C403.3 556.8 404.7 555.8 405.5 554.0 C406.3 552.2 406.5 548.9 406.7 547.0 C406.9 545.1 407.1 544.3 406.7 542.6 C406.2 540.9 405.1 538.7 404.0 537.0 C402.9 535.3 401.6 534.3 400.4 532.6 C399.2 530.9 397.9 529.1 397.0 527.0 C396.1 524.9 395.2 522.5 395.0 520.0 C394.8 517.5 395.4 513.3 395.5 512.0" fill="none" stroke="#111" stroke-width="1.8" />
<path d="M395.3 505.0 L400.0 502.0 L406.6 504.0 L406.6 507.8 L401.5 510.7 L395.3 508.5Z" fill="#fff" stroke="#111" stroke-width="1.05" />
<path d="M395.3 505.0 L401.5 507.0 L406.6 504.0" fill="none" stroke="#444" stroke-width="0.6" />
<path d="M401.5 507.0 L401.5 510.7" fill="none" stroke="#444" stroke-width="0.6" />
<path d="M395.4 585.4 L452.0 654.2 L457.1 655.4" fill="none" stroke="#444" stroke-width="0.6" />
<text transform="translate(462.2,660.0) scale(0.84,1)" font-size="12.3" fill="#111" stroke="#111" stroke-width="0.35">21</text>
<ellipse cx="314.3" cy="472.5" rx="2.6" ry="3.2" transform="rotate(-30 314.3 472.5)" fill="#fff" stroke="#222" stroke-width="0.9"/>
<path d="M316.5 471.0 L323.3 466.5" fill="none" stroke="#333" stroke-width="3.4" />
<path d="M316.5 471.0 L323.3 466.5" fill="none" stroke="#fff" stroke-width="1.8" />
<ellipse cx="304.5" cy="582.5" rx="2.6" ry="3.2" transform="rotate(-30 304.5 582.5)" fill="#fff" stroke="#222" stroke-width="0.9"/>
<path d="M306.7 581.0 L313.8 576.5" fill="none" stroke="#333" stroke-width="3.4" />
<path d="M306.7 581.0 L313.8 576.5" fill="none" stroke="#fff" stroke-width="1.8" />
<path d="M313.5 450.3 L316.0 465.0" fill="none" stroke="#444" stroke-width="0.6" />
<text transform="translate(306.6,446.8) scale(0.84,1)" font-size="12.3" fill="#111" stroke="#111" stroke-width="0.35">26</text>
<path d="M284.1 593.2 L303.0 583.1" fill="none" stroke="#444" stroke-width="0.6" />
<text transform="translate(271.6,598.3) scale(0.84,1)" font-size="12.3" fill="#111" stroke="#111" stroke-width="0.35">16</text>
<path d="M324.2 466.7 L363.2 446.6 L386.4 457.9 L397.8 453.5" fill="none" stroke="#666" stroke-width="0.6" stroke-dasharray="9 2.5 1.5 2.5"/>
<circle cx="398.5" cy="453.2" r="1.8" fill="none" stroke="#111" stroke-width="0.7"/>
<circle cx="374.5" cy="503" r="1.5" fill="none" stroke="#111" stroke-width="0.6"/>
<path d="M314.3 575.6 L348.2 556.7 L348.2 516.5 L363.3 508.9" fill="none" stroke="#666" stroke-width="0.6" stroke-dasharray="9 2.5 1.5 2.5"/>
<path d="M336.0 388.2 L388.4 386.3 L410.4 390.5" fill="none" stroke="#666" stroke-width="0.6" stroke-dasharray="9 2.5 1.5 2.5"/>
<path d="M367.0 312.7 L387.1 320.3 L410.0 335.3" fill="none" stroke="#666" stroke-width="0.6" stroke-dasharray="9 2.5 1.5 2.5"/>
<path d="M414.2 344.0 L450.7 366.6 L500.0 384.2 L547.0 399.7 L547.2 487.2 L565.1 494.8" fill="none" stroke="#666" stroke-width="0.6" stroke-dasharray="9 2.5 1.5 2.5"/>
<path d="M340.0 389.2 L365.0 388.8" fill="none" stroke="#666" stroke-width="0.6" stroke-dasharray="9 2.5 1.5 2.5"/>
<path d="M565.9 489.5 C566.4 488.1 567.3 484.1 568.8 481.4 C570.3 478.7 572.5 475.9 574.7 473.3 C576.9 470.7 579.3 467.9 582.0 466.0 C584.7 464.1 587.6 462.4 590.8 461.6 C594.0 460.8 598.4 460.7 601.1 461.2 C603.8 461.7 604.7 463.2 607.0 464.5 C609.3 465.8 611.2 467.1 615.0 469.0 C618.8 470.9 626.5 474.0 629.7 475.6 C632.9 477.2 633.2 477.0 634.1 478.5 C635.0 480.0 635.5 481.8 634.9 484.4 C634.3 487.0 632.6 491.2 630.5 493.9 C628.4 496.6 625.4 498.6 622.4 500.5 C619.4 502.4 614.7 504.4 612.8 505.6 C610.9 506.9 611.3 507.6 611.0 508.0" fill="none" stroke="#111" stroke-width="1.4" />
<path d="M601.6 521.2 C600.2 521.3 596.0 522.1 593.0 521.8 C590.0 521.5 585.8 521.1 583.5 519.6 C581.2 518.1 580.3 515.0 579.1 513.0 C577.9 511.0 577.7 509.9 576.1 507.8 C574.5 505.7 571.2 502.7 569.5 500.5 C567.8 498.3 566.5 496.4 565.9 494.6 C565.3 492.8 565.9 490.4 565.9 489.5" fill="none" stroke="#111" stroke-width="1.4" />
<path d="M573.6 483.0 C574.1 482.0 575.1 479.2 576.9 477.0 C578.7 474.8 581.6 471.9 584.2 469.7 C586.8 467.5 590.9 464.8 592.3 463.8" fill="none" stroke="#666" stroke-width="0.6" />
<path d="M573.6 482.5 C573.6 483.1 573.4 485.0 573.6 485.8 C573.8 486.6 571.8 486.3 574.7 487.3 C577.6 488.3 585.9 490.1 590.8 491.7 C595.7 493.3 601.2 495.6 604.0 496.8 C606.8 498.0 606.7 498.0 607.7 499.0 C608.7 500.0 609.3 501.6 609.9 502.7 C610.5 503.8 611.1 505.1 611.4 505.6" fill="none" stroke="#111" stroke-width="1.2" />
<path d="M569.5 494.6 C569.8 494.5 567.7 493.3 571.0 494.2 C574.3 495.1 583.6 498.0 589.4 499.8 C595.1 501.6 602.3 503.8 605.5 504.9 C608.7 506.0 608.0 506.2 608.5 506.5" fill="none" stroke="#111" stroke-width="1.2" />
<path d="M572.5 496.8 C574.7 497.8 581.7 500.9 585.7 502.7 C589.7 504.5 593.2 506.8 596.7 507.8 C600.2 508.8 605.3 508.5 607.0 508.6" fill="none" stroke="#666" stroke-width="0.6" />
<path d="M607.0 467.5 L596.0 492.4" fill="none" stroke="#555" stroke-width="0.6" />
<path d="M608.8 467.8 L597.2 492.6" fill="none" stroke="#555" stroke-width="0.6" />
<path d="M632.7 479.2 C632.7 480.1 633.8 482.4 632.7 484.4 C631.6 486.4 627.1 489.9 626.0 491.0" fill="none" stroke="#777" stroke-width="0.6" />
<path d="M622.4 495.4 C621.3 496.2 617.6 498.7 616.0 500.0 C614.4 501.3 613.3 502.8 612.8 503.4" fill="none" stroke="#777" stroke-width="0.6" />
<path d="M603.5 499.8 L601.5 504.5" fill="none" stroke="#777" stroke-width="0.5" />
<path d="M605.5 500.5 L603.5 505.0" fill="none" stroke="#777" stroke-width="0.5" />
<ellipse cx="607.3" cy="513.8" rx="4.4" ry="8" transform="rotate(37 607.3 513.8)" fill="none" stroke="#111" stroke-width="1.1"/>
<path d="M601.8 466.6 L596.2 466.3 L597.1 468.4 L591.3 470.6 L592.2 473.2 L598 470.8 L598.7 472.9 Z" fill="#111" stroke="none" stroke-width="0" />
<path d="M577.5 485.3 L583 485 L581.6 483.2 L586.6 478.6 L584.8 476.2 L579.9 480.9 L578.6 479.2 Z" fill="#111" stroke="none" stroke-width="0" />
<ellipse cx="618.6" cy="514.4" rx="4.1" ry="5.2" transform="rotate(-20 618.6 514.4)" fill="none" stroke="#111" stroke-width="1.1"/>
<ellipse cx="619.4" cy="514.2" rx="2" ry="2.8" transform="rotate(-20 619.4 514.2)" fill="none" stroke="#333" stroke-width="0.8"/>
<ellipse cx="628" cy="517.6" rx="3.9" ry="5" transform="rotate(-20 628 517.6)" fill="none" stroke="#111" stroke-width="1.1"/>
<ellipse cx="628.8" cy="517.4" rx="1.9" ry="2.7" transform="rotate(-20 628.8 517.4)" fill="none" stroke="#333" stroke-width="0.8"/>
<path d="M633.5 519.3 L643.5 522.6" fill="none" stroke="#222" stroke-width="4.4" />
<path d="M633.5 519.3 L643.5 522.6" fill="none" stroke="#fff" stroke-width="2.4" />
<path d="M634.8 517.7 L634.2 520.9" fill="none" stroke="#444" stroke-width="0.6" />
<path d="M637.0 518.4 L636.4 521.6" fill="none" stroke="#444" stroke-width="0.6" />
<path d="M639.2 519.1 L638.6 522.3" fill="none" stroke="#444" stroke-width="0.6" />
<path d="M641.4 519.8 L640.8 523.0" fill="none" stroke="#444" stroke-width="0.6" />
<path d="M644.5 520.0 L647.5 519.2 L650.0 521.5 L649.8 525.5 L646.5 527.0 L644.0 525.5Z" fill="#fff" stroke="#111" stroke-width="1.0" />
<path d="M647.5 519.2 L647.0 523.5 L649.8 525.5" fill="none" stroke="#444" stroke-width="0.6" />
<path d="M601.5 440.1 L597.8 440.1 L590.2 460.8" fill="none" stroke="#444" stroke-width="0.6" />
<text transform="translate(604.7,444.1) scale(0.84,1)" font-size="12.3" fill="#111" stroke="#111" stroke-width="0.35">22</text>
<path d="M641.8 494.2 L637.4 494.2 L621.0 510.5" fill="none" stroke="#444" stroke-width="0.6" />
<text transform="translate(646.2,499.4) scale(0.84,1)" font-size="12.3" fill="#111" stroke="#111" stroke-width="0.35">23</text>
<path d="M628.0 521.0 L633.0 543.2 L636.8 543.2" fill="none" stroke="#444" stroke-width="0.6" />
<text transform="translate(638.0,547.2) scale(0.84,1)" font-size="12.3" fill="#111" stroke="#111" stroke-width="0.35">24</text>
<path d="M669.5 506.1 L665.1 506.1 L649.3 521.9" fill="none" stroke="#444" stroke-width="0.6" />
<text transform="translate(678.3,510.7) scale(0.84,1)" font-size="12.3" fill="#111" stroke="#111" stroke-width="0.35">2</text>
<text transform="translate(744.3,711.5) rotate(-90) scale(0.92,1)" font-size="10.6" fill="#1a1a1a" stroke="#1a1a1a" stroke-width="0.25">Dis.1278-2</text>
<path d="M77.2 543.6 C74.7 544.3 66.5 546.1 62.0 548.0 C57.5 549.9 52.9 552.6 50.0 555.0 C47.1 557.4 45.3 560.0 44.6 562.5 C43.9 565.0 44.3 567.2 46.0 570.0 C47.7 572.8 51.0 576.2 55.0 579.0 C59.0 581.8 65.0 584.8 70.0 587.0 C75.0 589.2 80.7 591.2 85.0 592.5 C89.3 593.8 91.8 594.1 96.0 594.5 C100.2 594.9 105.8 595.3 110.0 595.0 C114.2 594.7 119.4 593.5 121.5 592.8 C123.6 592.1 122.3 591.1 122.5 590.8" fill="none" stroke="#222" stroke-width="1.0" />
<path d="M77.2 543.6 C80.2 543.8 89.2 543.8 95.0 545.0 C100.8 546.2 106.7 548.3 112.0 551.0 C117.3 553.7 123.2 557.7 127.0 561.0 C130.8 564.3 133.4 568.1 134.7 571.0 C135.9 573.9 135.3 576.3 134.5 578.5 C133.7 580.7 131.2 582.4 130.0 584.0 C128.8 585.6 127.9 587.3 127.5 588.0" fill="none" stroke="#222" stroke-width="1.0" />
<path d="M44.6 563.5 C45.0 565.0 45.1 569.5 47.0 572.5 C48.9 575.5 52.0 578.7 56.0 581.5 C60.0 584.3 66.0 587.2 71.0 589.5 C76.0 591.8 81.8 593.8 86.0 595.0 C90.2 596.2 92.0 596.6 96.0 597.0 C100.0 597.4 105.8 597.8 110.0 597.5 C114.2 597.2 119.4 596.4 121.5 595.5 C123.6 594.6 122.3 592.6 122.5 592.0" fill="none" stroke="#333" stroke-width="0.8" />
<path d="M127.5 588.0 L129.5 589.5 L134.5 580.5" fill="none" stroke="#333" stroke-width="0.8" />
<path d="M104.5 575.2 L127.5 587.8" fill="none" stroke="#333" stroke-width="0.8" />
<path d="M105.2 580.2 L121.6 590.7" fill="none" stroke="#333" stroke-width="0.8" />
<path d="M104.5 575.2 C103.8 574.7 101.6 572.7 100.0 572.4 C98.4 572.1 95.8 572.6 94.8 573.3 C93.8 574.0 93.5 575.7 94.0 576.8 C94.5 577.9 96.1 579.4 98.0 580.0 C99.9 580.6 104.0 580.2 105.2 580.2" fill="none" stroke="#333" stroke-width="0.8" />
<ellipse cx="75.3" cy="547.8" rx="2.7" ry="1.6" transform="rotate(10 75.3 547.8)" fill="none" stroke="#444" stroke-width="0.7"/>
<ellipse cx="51.7" cy="560.6" rx="2.7" ry="1.6" transform="rotate(10 51.7 560.6)" fill="none" stroke="#444" stroke-width="0.7"/>
<ellipse cx="88" cy="569.2" rx="4" ry="2.5" transform="rotate(10 88 569.2)" fill="none" stroke="#333" stroke-width="0.8"/>
<ellipse cx="88" cy="569.2" rx="2.2" ry="1.3" transform="rotate(10 88 569.2)" fill="none" stroke="#555" stroke-width="0.6"/>
<ellipse cx="126.2" cy="568.6" rx="2.6" ry="1.6" transform="rotate(10 126.2 568.6)" fill="none" stroke="#444" stroke-width="0.7"/>
<ellipse cx="102.2" cy="589.8" rx="2.5" ry="1.5" transform="rotate(10 102.2 589.8)" fill="none" stroke="#444" stroke-width="0.7"/>
<path d="M77.2 543.6 L86.6 532.3 L89.4 532.3" fill="none" stroke="#444" stroke-width="0.6" />
<text transform="translate(91.2,537.2) scale(0.84,1)" font-size="12.3" fill="#111" stroke="#111" stroke-width="0.35">17</text>
<path d="M53.0 582.0 C51.5 583.1 46.1 586.0 44.0 588.5 C41.9 591.0 40.6 594.1 40.3 596.7 C40.0 599.3 40.4 601.1 42.0 604.0 C43.6 606.9 46.2 610.7 50.0 614.0 C53.8 617.3 60.0 621.2 65.0 624.0 C70.0 626.8 76.0 628.9 80.0 630.5 C84.0 632.1 84.5 633.0 88.7 633.4 C92.9 633.8 99.8 633.8 105.0 633.0 C110.2 632.2 115.5 630.5 120.0 628.5 C124.5 626.5 128.9 623.6 132.0 621.0 C135.1 618.4 137.3 615.7 138.5 613.0 C139.7 610.3 139.7 607.4 139.3 605.0 C138.9 602.6 137.2 600.4 136.0 598.5 C134.8 596.6 132.7 594.6 132.0 593.8" fill="none" stroke="#333" stroke-width="0.9" />
<path d="M56.0 584.5 C54.5 585.6 48.9 588.7 47.0 591.0 C45.1 593.3 44.5 595.5 44.7 598.2 C44.9 600.9 45.5 603.9 48.0 607.0 C50.5 610.1 55.5 614.0 60.0 617.0 C64.5 620.0 70.2 622.8 75.0 625.0 C79.8 627.2 83.9 629.7 88.7 630.5 C93.5 631.3 99.1 630.8 104.0 630.0 C108.9 629.2 113.7 627.8 118.0 626.0 C122.3 624.2 127.1 621.5 130.0 619.0 C132.9 616.5 134.7 613.5 135.6 611.0 C136.5 608.5 136.2 606.4 135.5 604.0 C134.8 601.6 132.2 597.8 131.5 596.5" fill="none" stroke="#444" stroke-width="0.7" />
<path d="M41.7 607.0 C42.2 609.2 43.3 615.7 45.0 620.0 C46.7 624.3 49.6 629.5 52.0 633.0 C54.4 636.5 56.0 638.1 59.3 640.7 C62.6 643.3 67.1 646.3 72.0 648.5 C76.9 650.7 84.0 652.8 88.7 654.0 C93.4 655.2 96.1 655.3 100.0 655.5 C103.9 655.7 108.4 656.1 112.1 655.4 C115.8 654.6 119.0 653.0 122.0 651.0 C125.0 649.0 127.8 646.2 129.8 643.7 C131.8 641.2 133.0 638.9 134.0 636.0 C135.0 633.1 134.8 630.3 135.6 626.1 C136.4 621.9 138.4 613.5 139.0 611.0" fill="none" stroke="#333" stroke-width="0.9" />
<path d="M64.0 612.0 C65.0 611.1 66.5 607.8 70.0 606.5 C73.5 605.2 80.0 604.6 85.0 604.5 C90.0 604.4 95.8 604.9 100.0 606.0 C104.2 607.1 107.5 609.0 110.0 611.0 C112.5 613.0 114.7 615.8 115.0 618.0 C115.3 620.2 114.5 622.5 112.0 624.0 C109.5 625.5 104.5 626.6 100.0 627.0 C95.5 627.4 89.7 627.3 85.0 626.5 C80.3 625.7 75.3 623.6 72.0 622.0 C68.7 620.4 66.3 618.7 65.0 617.0 C63.7 615.3 64.2 612.8 64.0 612.0 C63.8 611.2 63.0 612.9 64.0 612.0Z" fill="none" stroke="#555" stroke-width="0.7" />
<path d="M66.0 616.0 C67.5 615.4 71.0 613.2 75.0 612.5 C79.0 611.8 85.3 611.6 90.0 612.0 C94.7 612.4 99.3 613.7 103.0 615.0 C106.7 616.3 110.5 619.2 112.0 620.0" fill="none" stroke="#555" stroke-width="0.7" />
<ellipse cx="78" cy="601.5" rx="2.5" ry="1.6" transform="rotate(10 78 601.5)" fill="none" stroke="#555" stroke-width="0.6"/>
<path d="M102.0 601.0 C103.8 601.8 110.0 604.2 113.0 606.0 C116.0 607.8 118.2 610.2 120.0 612.0 C121.8 613.8 123.3 616.2 124.0 617.0" fill="none" stroke="#666" stroke-width="0.6" />
<path d="M120.5 616.5 L124.5 613.0 L127.5 617.5 L124.0 619.5 L118.0 618.5Z" fill="none" stroke="#555" stroke-width="0.7" />
<path d="M62.3 646.6 L61.7 718.5" fill="none" stroke="#555" stroke-width="0.7" />
<path d="M117.3 655.4 L116.9 718.5" fill="none" stroke="#555" stroke-width="0.7" />
<path d="M102.0 569.0 L102.0 660.0" fill="none" stroke="#666" stroke-width="0.7" stroke-dasharray="1.5 1.5"/>
<ellipse cx="101.8" cy="664.3" rx="5.6" ry="3.6" transform="rotate(0 101.8 664.3)" fill="#fff" stroke="#111" stroke-width="1.3"/>
<ellipse cx="101.8" cy="664" rx="2.8" ry="1.6" transform="rotate(0 101.8 664)" fill="none" stroke="#222" stroke-width="1.0"/>
<path d="M99.2 672.5 L99.2 711.0" fill="none" stroke="#222" stroke-width="0.9" />
<path d="M104.5 672.5 L104.5 711.0" fill="none" stroke="#222" stroke-width="0.9" />
<path d="M99.2 672.5 L101.8 671.2 L104.5 672.5" fill="none" stroke="#333" stroke-width="0.8" />
<path d="M99.5 676.0 L104.3 675.2" fill="none" stroke="#555" stroke-width="0.6" />
<path d="M99.5 679.0 L104.3 678.2" fill="none" stroke="#555" stroke-width="0.6" />
<path d="M99.5 682.0 L104.3 681.2" fill="none" stroke="#555" stroke-width="0.6" />
<path d="M99.5 685.0 L104.3 684.2" fill="none" stroke="#555" stroke-width="0.6" />
<path d="M99.5 688.0 L104.3 687.2" fill="none" stroke="#555" stroke-width="0.6" />
<path d="M96.7 712.5 C96.8 713.2 96.2 716.0 97.0 717.0 C97.8 718.0 99.9 718.7 101.5 718.8 C103.1 718.9 105.5 718.5 106.5 717.5 C107.5 716.5 107.8 714.2 107.4 713.0 C107.0 711.8 105.3 710.9 104.0 710.5 C102.7 710.1 100.7 710.2 99.5 710.5 C98.3 710.8 97.2 712.2 96.7 712.5" fill="#fff" stroke="#222" stroke-width="0.9" />
<path d="M133.4 671.5 L129.5 671.5 L107.7 665.0" fill="none" stroke="#444" stroke-width="0.6" />
<text transform="translate(136.5,674.7) scale(0.84,1)" font-size="12.3" fill="#111" stroke="#111" stroke-width="0.35">18</text>
<path d="M131.2 703.1 L127.5 703.1 L104.8 693.6" fill="none" stroke="#444" stroke-width="0.6" />
<text transform="translate(134.3,708.4) scale(0.84,1)" font-size="12.3" fill="#111" stroke="#111" stroke-width="0.35">19</text>
<path d="M104.5 568.1 L428.2 676.2 L428.2 641.6" fill="none" stroke="#555" stroke-width="0.7" stroke-dasharray="9 2.5 1.5 2.5"/>
<path d="M192.8 670.0 C192.1 667.7 190.2 661.1 188.6 656.0 C187.0 650.9 185.3 644.5 183.4 639.2 C181.5 634.0 180.6 629.2 177.1 624.5 C173.6 619.8 167.4 614.6 162.4 610.9 C157.4 607.2 149.6 603.7 147.0 602.3" fill="none" stroke="#111" stroke-width="1.25" stroke-dasharray="9 2.5 1.5 2.5"/>
<path d="M131.8 593 L147.9 597.2 L142.3 604.8 Z" fill="#111" stroke="none" stroke-width="0" />
<path d="M203.0 652.0 L203.0 664.0" fill="none" stroke="#111" stroke-width="1.1" />
<path d="M215.6 652.0 L215.6 664.0" fill="none" stroke="#111" stroke-width="1.1" />
<ellipse cx="209.3" cy="651.5" rx="6.3" ry="2.6" transform="rotate(0 209.3 651.5)" fill="#fff" stroke="#111" stroke-width="1.0"/>
<ellipse cx="209.3" cy="651.5" rx="4" ry="1.5" transform="rotate(0 209.3 651.5)" fill="none" stroke="#444" stroke-width="0.6"/>
<path d="M197.5 667.0 C197.5 670.5 197.1 684.1 197.5 688.0 C197.9 691.9 198.1 689.8 200.0 690.5 C201.9 691.2 206.0 692.0 209.0 692.0 C212.0 692.0 216.1 691.2 218.0 690.5 C219.9 689.8 219.9 691.9 220.3 688.0 C220.7 684.1 220.3 670.5 220.3 667.0" fill="#fff" stroke="#111" stroke-width="1.2" />
<ellipse cx="208.9" cy="666.5" rx="11.4" ry="3.8" transform="rotate(0 208.9 666.5)" fill="#fff" stroke="#111" stroke-width="1.1"/>
<ellipse cx="208.9" cy="666.2" rx="6.3" ry="2.3" transform="rotate(0 208.9 666.2)" fill="#fff" stroke="#222" stroke-width="0.9"/>
<path d="M203.0 664.5 L203.0 666.0" fill="none" stroke="#111" stroke-width="1.0" />
<path d="M215.6 664.5 L215.6 666.0" fill="none" stroke="#111" stroke-width="1.0" />
<path d="M197.5 679.0 C199.4 679.5 205.2 682.0 209.0 682.0 C212.8 682.0 218.4 679.5 220.3 679.0" fill="none" stroke="#111" stroke-width="1.1" />
<path d="M197.5 683.0 C199.4 683.5 205.2 686.0 209.0 686.0 C212.8 686.0 218.4 683.5 220.3 683.0" fill="none" stroke="#111" stroke-width="1.1" />
<path d="M206.5 671.0 L206.5 680.0" fill="none" stroke="#555" stroke-width="0.6" />
<path d="M211.0 671.0 L211.0 680.5" fill="none" stroke="#555" stroke-width="0.6" />
<path d="M202.2 691.0 L202.2 716.0" fill="none" stroke="#111" stroke-width="1.1" />
<path d="M214.8 691.0 L214.8 716.0" fill="none" stroke="#111" stroke-width="1.1" />
<path d="M202.2 716.0 C202.7 716.4 203.9 718.0 205.0 718.5 C206.1 719.0 207.4 719.3 209.0 719.0 C210.6 718.7 213.8 716.9 214.8 716.5" fill="none" stroke="#111" stroke-width="1.0" />
<ellipse cx="210.5" cy="717.2" rx="2.5" ry="1.2" transform="rotate(0 210.5 717.2)" fill="none" stroke="#333" stroke-width="0.7"/>
<path d="M205.5 650.5 C205.8 649.4 205.9 645.8 207.0 644.0 C208.1 642.2 209.8 640.4 212.0 639.5 C214.2 638.6 215.5 638.9 220.0 638.6 C224.5 638.3 235.8 637.7 239.0 637.5" fill="none" stroke="#222" stroke-width="0.8" />
<path d="M206.9 650.5 C207.2 649.4 207.3 645.8 208.4 644.0 C209.5 642.2 211.5 640.4 213.4 639.8 C215.3 639.1 215.7 640.1 220.0 640.0 C224.3 639.9 235.8 639.1 239.0 638.9" fill="none" stroke="#222" stroke-width="0.8" />
<path d="M208.3 650.5 C208.6 649.4 208.7 645.7 209.8 644.0 C210.9 642.3 213.1 640.5 214.8 640.1 C216.5 639.6 216.0 641.4 220.0 641.4 C224.0 641.4 235.8 640.5 239.0 640.3" fill="none" stroke="#222" stroke-width="0.8" />
<path d="M209.7 650.5 C209.9 649.4 210.1 645.7 211.2 644.0 C212.3 642.3 214.7 640.5 216.2 640.3 C217.7 640.1 216.2 642.6 220.0 642.8 C223.8 643.0 235.8 641.9 239.0 641.7" fill="none" stroke="#222" stroke-width="0.8" />
<path d="M237.6 633.0 L248.0 627.0 L256.4 629.5 L256.4 640.0 L246.0 646.8 L237.6 644.0Z" fill="#fff" stroke="#111" stroke-width="1.0" />
<path d="M237.6 633.0 L246.0 635.6 L256.4 629.5" fill="none" stroke="#333" stroke-width="0.7" />
<path d="M246.0 635.6 L246.0 646.8" fill="none" stroke="#333" stroke-width="0.7" />
<path d="M243.0 631.0 L251.0 626.5" fill="none" stroke="#444" stroke-width="0.6" />
<path d="M242.3 684.5 L238.0 684.5 L220.3 672.7" fill="none" stroke="#444" stroke-width="0.6" />
<text transform="translate(246.4,688.6) scale(0.84,1)" font-size="12.3" fill="#111" stroke="#111" stroke-width="0.35">20</text>
<path d="M260.4 618.5 L271.0 612.5 L280.8 615.5 L280.8 626.0 L270.5 634.2 L260.4 631.0Z" fill="#fff" stroke="#111" stroke-width="1.0" />
<path d="M260.4 618.5 L270.5 621.8 L280.8 615.5" fill="none" stroke="#333" stroke-width="0.7" />
<path d="M270.5 621.8 L270.5 634.2" fill="none" stroke="#333" stroke-width="0.7" />
<path d="M262.5 622.0 L262.5 630.0" fill="none" stroke="#444" stroke-width="0.6" />
<path d="M265.0 623.0 L265.0 631.0" fill="none" stroke="#444" stroke-width="0.6" />
<path d="M280.5 616.0 C281.4 615.4 283.7 613.5 286.0 612.5 C288.3 611.5 293.1 610.4 294.5 610.0" fill="none" stroke="#222" stroke-width="0.8" />
<path d="M280.5 617.8 C281.4 617.2 283.7 615.1 286.0 613.9 C288.3 612.8 293.1 611.4 294.5 610.9" fill="none" stroke="#222" stroke-width="0.8" />
<path d="M280.5 619.6 C281.4 618.9 283.7 616.7 286.0 615.4 C288.3 614.1 293.1 612.4 294.5 611.8" fill="none" stroke="#222" stroke-width="0.8" />
<path d="M294.5 610.5 L309.2 601.2" fill="none" stroke="#111" stroke-width="9.4" stroke-linecap="butt"/>
<path d="M294.5 610.5 L309.2 601.2" fill="none" stroke="#fff" stroke-width="7.2" stroke-linecap="butt"/>
<ellipse cx="309.5" cy="601.2" rx="2.6" ry="4.8" transform="rotate(-32 309.5 601.2)" fill="#fff" stroke="#111" stroke-width="1.0"/>
<ellipse cx="295" cy="610.8" rx="2.3" ry="3.9" transform="rotate(-32 295 610.8)" fill="#fff" stroke="#222" stroke-width="0.9"/>
<ellipse cx="295" cy="610.8" rx="1" ry="1.6" transform="rotate(-32 295 610.8)" fill="none" stroke="#444" stroke-width="0.6"/>
<path d="M308.3 613.0 L311.5 627.2 L316.2 627.2" fill="none" stroke="#444" stroke-width="0.6" />
<text transform="translate(317.1,628.9) scale(0.84,1)" font-size="12.3" fill="#111" stroke="#111" stroke-width="0.35">25</text>
<path d="M311.5 599.5 C312.9 599.4 316.9 598.1 320.0 598.8 C323.1 599.5 327.4 601.6 330.0 603.8 C332.6 606.0 334.0 609.1 335.5 612.0 C337.0 614.9 337.8 617.7 338.9 621.4 C340.0 625.1 340.9 629.8 342.0 634.0 C343.1 638.2 343.9 642.6 345.2 646.6 C346.5 650.6 348.3 654.4 350.0 658.0 C351.7 661.6 353.4 665.5 355.2 668.0 C357.0 670.5 358.9 671.9 361.0 673.0 C363.1 674.1 364.2 674.9 367.8 674.9 C371.4 674.9 378.9 674.0 382.9 673.0 C386.9 672.0 388.9 670.5 392.0 669.0 C395.1 667.5 399.0 666.2 401.8 664.2 C404.6 662.2 406.7 659.5 409.0 657.0 C411.3 654.5 414.0 651.4 415.6 649.1 C417.2 646.8 417.7 644.9 418.5 643.0 C419.3 641.1 420.2 638.7 420.6 637.8" fill="none" stroke="#666" stroke-width="0.7" stroke-dasharray="9 2.5 1.5 2.5"/>
</svg></div>
<div id="bar"></div>
<div style="position:absolute;left:0;top:0;width:1px;height:921px;background:#474747"></div>
<div id="right"><div class="r" style="top:-4.3px;height:29.3px"><div>
<span class="c1">1</span><span class="c2">452049104</span><span class="c3">1</span><span class="c4">PUSH</span>
</div></div>
<div class="r s" style="top:25.0px;height:29.4px"><div>
<span class="c1">2</span><span class="c2">8003962</span><span class="c3">2</span><span class="c4">SOCKET HEAD SCREW</span>
</div></div>
<div class="r" style="top:54.4px;height:28.8px"><div>
<span class="c1">3</span><span class="c2">452049107</span><span class="c3">1</span><span class="c4">PIN</span>
</div></div>
<div class="r s" style="top:83.2px;height:29.5px"><div>
<span class="c1">4</span><span class="c2">95325085</span><span class="c3">1</span><span class="c4">SPRING</span>
</div></div>
<div class="r" style="top:112.7px;height:29.4px"><div>
<span class="c1">5</span><span class="c2">452049106</span><span class="c3">1</span><span class="c4">ANGLE PIECE</span>
</div></div>
<div class="r s" style="top:142.1px;height:29.4px"><div>
<span class="c1">6</span><span class="c2">95325086</span><span class="c3">1</span><span class="c4">PIN ..</span>
</div></div>
<div class="r" style="top:171.5px;height:196.7px"><div>
<span class="c1">7</span><span class="c2">F45203608603</span><span class="c3">1</span><span class="c4">CONTROL</span>
<span class="c6">&nbsp;-><br>F24526A00001(2200<br>Kg)<br>&nbsp;-><br>F24526A00020(3000<br>Kg)<br>&nbsp;-> 330136A00020<br>330136500157 -><br>F24526S00157(2200<br>Kg) -><br>F24526S00157(3000<br>Kg) -></span>
</div></div>
<div class="r s" style="top:368.2px;height:85.3px"><div>
<span class="c1">7</span><span class="c2">45373608600</span><span class="c3">1</span><span class="c4">TRACTION CONTROLLER<br>ASSY.</span>
<span class="c6">330136A00021 -><br>F24526A00002(2200<br>Kg) -><br>F24526A00021(3000<br>Kg) -></span>
</div></div>
<div class="r" style="top:453.5px;height:70.0px"><div style="position:absolute;left:0;top:1.0px">
<span class="c1">7</span><span class="c2">F45203608601</span><span class="c3">1</span><span class="c4">CONTROL</span>
<span class="c6">&nbsp;-> 330136500156<br>330136400031 -><br>F24526R00031 -><br>F24526S00156</span>
</div></div>
<div class="r s" style="top:523.5px;height:37.6px"><div>
<span class="c1">8</span><span class="c2">F7916451530</span><span class="c3">1</span><span class="c4">POTENTIOMETER</span>
<span class="c6">330136500157 -><br>F24526S00157 -></span>
</div></div>
<div class="r" style="top:561.1px;height:69.2px"><div style="position:absolute;left:0;top:-0.4px">
<span class="c1">8</span><span class="c2">9848664</span><span class="c3">1</span><span class="c4">POTENTIOMETER</span>
<span class="c6">&nbsp;-> 330136500156<br>330136400031 -><br>F24526R00031 -><br>F24526S00156</span>
</div></div>
<div class="r s" style="top:630.3px;height:29.3px"><div>
<span class="c1">9</span><span class="c2">452049105</span><span class="c3">1</span><span class="c4">SUPPORT</span>
</div></div>
<div class="r" style="top:659.6px;height:29.0px"><div>
<span class="c1">10</span><span class="c2">452049163</span><span class="c3">1</span><span class="c4">PUSH</span>
</div></div>
<div class="r s" style="top:688.6px;height:29.1px"><div>
<span class="c1">11</span><span class="c2">452049160</span><span class="c3">1</span><span class="c4">PUSH</span>
</div></div>
<div class="r" style="top:717.7px;height:29.7px"><div>
<span class="c1">12</span><span class="c2">452049162</span><span class="c3">1</span><span class="c4">PUSH</span>
</div></div>
<div class="r s" style="top:747.4px;height:29.2px"><div>
<span class="c1">13</span><span class="c2">452049108</span><span class="c3">2</span><span class="c4">CLOSING</span>
</div></div>
<div class="r" style="top:776.6px;height:28.9px"><div>
<span class="c1">14</span><span class="c2">452049102</span><span class="c3">1</span><span class="c4">BODY</span>
</div></div>
<div class="r s" style="top:805.5px;height:21.1px"><div>
<span class="c1">15</span><span class="c2">45203607201</span><span class="c3">1</span><span class="c4">SWITCH ASSY.</span>
<span class="c5">right</span>
</div></div>
<div class="r" style="top:826.6px;height:29.4px"><div style="position:absolute;left:0;top:0.7px">
<span class="c1">16</span><span class="c2">95306827</span><span class="c3">1</span><span class="c4">SCREW</span>
</div></div>
<div class="r s" style="top:856.0px;height:29.8px"><div>
<span class="c1">17</span><span class="c2">452049006</span><span class="c3">1</span><span class="c4">PLATE</span>
</div></div>
<div class="r" style="top:885.8px;height:28.9px"><div>
<span class="c1">18</span><span class="c2">F012322</span><span class="c3">4</span><span class="c4">LOCKWASHER</span>
</div></div>
<div class="r s" style="top:914.7px;height:29.3px"><div>
<span class="c1">19</span><span class="c2"></span><span class="c3"></span><span class="c4"></span>
</div></div></div>
<div id="tb"><div class="ln"></div><div class="ln2"></div>
<div style="position:absolute;left:520px;top:4.5px;width:114.5px;height:19.5px;background:#fff;border:1px solid #a5a5a5;border-bottom-color:#8a8a8a"></div>
<div style="position:absolute;left:524.6px;top:6.6px;font-size:12.9px;line-height:17px;color:#1e1e1e;letter-spacing:0.25px">101 / 123</div>
<div style="position:absolute;left:1401.5px;top:6.8px;font-size:12.6px;line-height:17px;color:#2a2a2a;letter-spacing:0.3px">100%</div>
</div>
<svg style="position:absolute;left:0;top:921px" width="1591" height="29" viewBox="0 921 1591 29">
<g fill="#1b1b1b">
<path d="M474 935.5 L481 929 L481 942 Z"/>
<path d="M483.2 931.5 L486.2 929 L486.2 942 L483.2 939.5 Z"/>
<path d="M501 935.5 L508 929 L508 942 Z"/>
<path d="M644 929 L651.3 935.5 L644 942 Z"/>
<path d="M666.8 929 L669.6 931.5 L669.6 939.5 L666.8 942 Z"/>
<path d="M672 929 L679.3 935.5 L672 942 Z"/>
<path d="M624 934 L631 934 L627.5 937.5 Z"/>
<path d="M1457.5 933 L1463.5 933 L1460.5 936.2 Z"/>
</g>
<!-- window icon enabled -->
<path d="M697 937.5 H691.6 V928.8 H698.5" fill="none" stroke="#7a7a7a" stroke-width="1"/>
<path d="M691.6 928.8 H698.5" fill="none" stroke="#4d6fa3" stroke-width="1.6"/>
<rect x="697" y="935" width="9.3" height="8" fill="#fff" stroke="#727272" stroke-width="1.2"/>
<rect x="697" y="934.4" width="9.3" height="1.8" fill="#727272"/>
<path d="M700 930.8 H706" stroke="#6f9a7a" stroke-width="1.5"/>
<path d="M702.5 928.5 L700 930.8 L702.5 933" fill="none" stroke="#6f9a7a" stroke-width="1.2"/>
<path d="M701.5 933 V934.5" stroke="#6f9a7a" stroke-width="1"/>
<!-- window icon disabled -->
<rect x="717.6" y="928.8" width="10" height="10" fill="none" stroke="#c4c4c4" stroke-width="1"/>
<rect x="722.6" y="935" width="10" height="8.3" fill="#f4f4f4" stroke="#bdbdbd" stroke-width="1"/>
<rect x="722.6" y="934.5" width="10" height="1.8" fill="#bdbdbd"/>
<path d="M718.5 940 H725" stroke="#a9c2ae" stroke-width="1.3"/>
<path d="M723 938 L725.2 940 L723 942" fill="none" stroke="#a9c2ae" stroke-width="1.1"/>
<!-- page view icons -->
<g fill="none" stroke="#6e6e6e" stroke-width="1">
<rect x="1283.5" y="929.5" width="10" height="13.5"/>
<path d="M1285.5 932.5 H1291.5 M1285.5 934.8 H1291.5 M1285.5 937.1 H1291.5 M1285.5 939.4 H1291.5" stroke="#8a8a8a"/>
<path d="M1308.5 943.6 V928.5 H1318.5 V943.6 M1308.5 939.5 H1318.5 M1308.5 940.8 H1318.5"/>
<path d="M1310.5 931 H1316.5 M1310.5 933.3 H1316.5 M1310.5 935.6 H1316.5 M1310.5 942.6 H1316.5" stroke="#8a8a8a"/>
</g>
<rect x="1329" y="927" width="24" height="17.6" fill="#c5d7f1"/>
<g fill="none" stroke="#6e6e6e" stroke-width="1">
<rect x="1333.5" y="929.5" width="7" height="13.5" fill="#fff"/>
<rect x="1341.5" y="929.5" width="7" height="13.5" fill="#fff"/>
<path d="M1335 932.5 H1339 M1335 935.5 H1339 M1335 938.5 H1339 M1343 932.5 H1347 M1343 935.5 H1347 M1343 938.5 H1347" stroke="#8a8a8a"/>
<path d="M1359 928.5 H1366.5 V934 M1366.5 938 V943.6 M1359 940.5 H1366.5 M1368 928.5 H1374.5 M1368 940.5 H1374.5 M1368 943.6 V938 M1368 934 V928.5"/>
<path d="M1359.5 931 H1364.5 M1359.5 933.3 H1364.5 M1359.5 935.6 H1364.5 M1370 931 H1374 M1370 933.3 H1374 M1370 935.6 H1374 M1359.5 942.6 H1364.5 M1370 942.6 H1374" stroke="#8a8a8a"/>
</g>
<!-- zoom -->
<circle cx="1475.3" cy="934.4" r="7" fill="none" stroke="#2a2a2a" stroke-width="1.1"/>
<path d="M1471.5 934.4 H1479.1" stroke="#2a2a2a" stroke-width="1.3"/>
<path d="M1490.2 935.5 H1580.8" stroke="#2a2a2a" stroke-width="1.4"/>
<rect x="1533.2" y="931.1" width="3.6" height="7.6" fill="#2a2a2a"/>
<circle cx="1593.2" cy="934.4" r="7" fill="none" stroke="#2a2a2a" stroke-width="1.1"/>
<path d="M1589.4 934.4 H1597" stroke="#2a2a2a" stroke-width="1.3"/>
</svg>
<div id="task"></div>
<div style="position:absolute;left:436px;top:950.6px;width:48px;height:3.4px;background:#0b5590"></div>
</body></html>
